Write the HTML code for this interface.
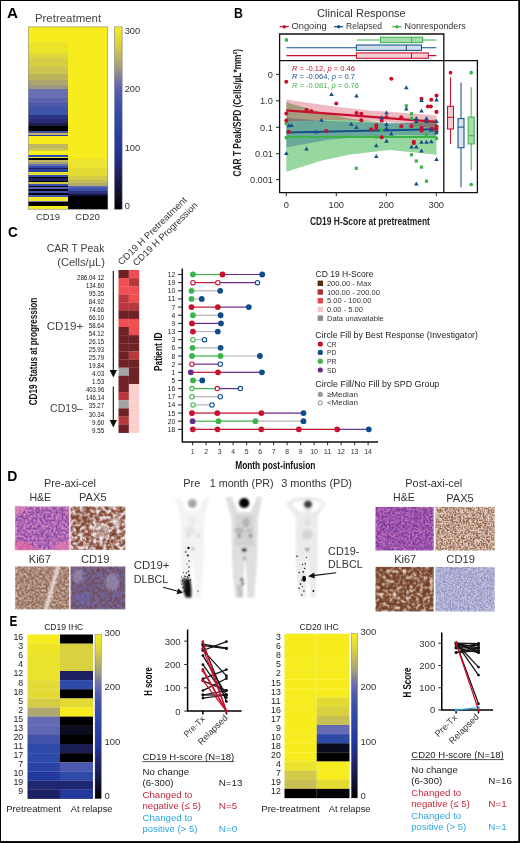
<!DOCTYPE html><html><head><meta charset="utf-8"><title>Figure</title><style>html,body{margin:0;padding:0;background:#fff;overflow:hidden}svg{display:block}text{font-family:'Liberation Sans', sans-serif}</style></head><body>
<svg width="520" height="843" viewBox="0 0 520 843">
<defs>
<linearGradient id="cb" x1="0" y1="1" x2="0" y2="0">
<stop offset="0" stop-color="#000000"/>
<stop offset="0.08" stop-color="#10102c"/>
<stop offset="0.2" stop-color="#1e2264"/>
<stop offset="0.33" stop-color="#22369c"/>
<stop offset="0.5" stop-color="#2e4aa8"/>
<stop offset="0.6" stop-color="#4454ac"/>
<stop offset="0.69" stop-color="#686cb4"/>
<stop offset="0.77" stop-color="#a09c7c"/>
<stop offset="0.86" stop-color="#c8c054"/>
<stop offset="0.93" stop-color="#e2da34"/>
<stop offset="1" stop-color="#f7ec1e"/>
</linearGradient>
<filter id="blur1" x="-20%" y="-20%" width="140%" height="140%"><feGaussianBlur stdDeviation="0.8"/></filter>
<filter id="blur0" x="-30%" y="-30%" width="160%" height="160%"><feGaussianBlur stdDeviation="0.35"/></filter>
<filter id="blur2" x="-20%" y="-20%" width="140%" height="140%"><feGaussianBlur stdDeviation="1.6"/></filter>
<filter id="nHE1" x="0" y="0" width="100%" height="100%" color-interpolation-filters="sRGB"><feTurbulence type="fractalNoise" baseFrequency="0.5" numOctaves="3" seed="3"/><feColorMatrix type="matrix" values="3.0 0 0 0 -1.020 3.0 0 0 0 -1.020 3.0 0 0 0 -1.020 0 0 0 0 1"/><feColorMatrix type="matrix" values="0.510 0 0 0 0.424 0.361 0 0 0 0.227 0.188 0 0 0 0.612 0 0 0 0 1" result="c"/><feGaussianBlur in="c" stdDeviation="0.9" result="b"/><feComposite in="c" in2="b" operator="arithmetic" k1="0" k2="0.5" k3="0.5" k4="0"/><feComposite in2="SourceGraphic" operator="in"/></filter>
<filter id="nPAX1" x="0" y="0" width="100%" height="100%" color-interpolation-filters="sRGB"><feTurbulence type="fractalNoise" baseFrequency="0.3" numOctaves="3" seed="5"/><feColorMatrix type="matrix" values="3.8 0 0 0 -1.500 3.8 0 0 0 -1.500 3.8 0 0 0 -1.500 0 0 0 0 1"/><feColorMatrix type="matrix" values="0.510 0 0 0 0.471 0.729 0 0 0 0.227 0.847 0 0 0 0.133 0 0 0 0 1" result="c"/><feGaussianBlur in="c" stdDeviation="0.9" result="b"/><feComposite in="c" in2="b" operator="arithmetic" k1="0" k2="0.5" k3="0.5" k4="0"/><feComposite in2="SourceGraphic" operator="in"/></filter>
<filter id="nKI1" x="0" y="0" width="100%" height="100%" color-interpolation-filters="sRGB"><feTurbulence type="fractalNoise" baseFrequency="0.5" numOctaves="3" seed="7"/><feColorMatrix type="matrix" values="2.6 0 0 0 -0.960 2.6 0 0 0 -0.960 2.6 0 0 0 -0.960 0 0 0 0 1"/><feColorMatrix type="matrix" values="0.392 0 0 0 0.518 0.494 0 0 0 0.353 0.549 0 0 0 0.267 0 0 0 0 1" result="c"/><feGaussianBlur in="c" stdDeviation="0.9" result="b"/><feComposite in="c" in2="b" operator="arithmetic" k1="0" k2="0.5" k3="0.5" k4="0"/><feComposite in2="SourceGraphic" operator="in"/></filter>
<filter id="nCD1" x="0" y="0" width="100%" height="100%" color-interpolation-filters="sRGB"><feTurbulence type="fractalNoise" baseFrequency="0.4" numOctaves="3" seed="9"/><feColorMatrix type="matrix" values="3.4 0 0 0 -1.160 3.4 0 0 0 -1.160 3.4 0 0 0 -1.160 0 0 0 0 1"/><feColorMatrix type="matrix" values="-0.016 0 0 0 0.455 0.165 0 0 0 0.267 0.455 0 0 0 0.243 0 0 0 0 1" result="c"/><feGaussianBlur in="c" stdDeviation="0.9" result="b"/><feComposite in="c" in2="b" operator="arithmetic" k1="0" k2="0.5" k3="0.5" k4="0"/><feComposite in2="SourceGraphic" operator="in"/></filter>
<filter id="nHE2" x="0" y="0" width="100%" height="100%" color-interpolation-filters="sRGB"><feTurbulence type="fractalNoise" baseFrequency="0.55" numOctaves="3" seed="11"/><feColorMatrix type="matrix" values="3.0 0 0 0 -1.050 3.0 0 0 0 -1.050 3.0 0 0 0 -1.050 0 0 0 0 1"/><feColorMatrix type="matrix" values="0.494 0 0 0 0.384 0.322 0 0 0 0.180 0.173 0 0 0 0.588 0 0 0 0 1" result="c"/><feGaussianBlur in="c" stdDeviation="0.9" result="b"/><feComposite in="c" in2="b" operator="arithmetic" k1="0" k2="0.5" k3="0.5" k4="0"/><feComposite in2="SourceGraphic" operator="in"/></filter>
<filter id="nPAX2" x="0" y="0" width="100%" height="100%" color-interpolation-filters="sRGB"><feTurbulence type="fractalNoise" baseFrequency="0.6" numOctaves="2" seed="13"/><feColorMatrix type="matrix" values="3.6 0 0 0 -1.250 3.6 0 0 0 -1.250 3.6 0 0 0 -1.250 0 0 0 0 1"/><feColorMatrix type="matrix" values="0.486 0 0 0 0.486 0.682 0 0 0 0.251 0.792 0 0 0 0.125 0 0 0 0 1" result="c"/><feGaussianBlur in="c" stdDeviation="0.9" result="b"/><feComposite in="c" in2="b" operator="arithmetic" k1="0" k2="0.5" k3="0.5" k4="0"/><feComposite in2="SourceGraphic" operator="in"/></filter>
<filter id="nKI2" x="0" y="0" width="100%" height="100%" color-interpolation-filters="sRGB"><feTurbulence type="fractalNoise" baseFrequency="0.3" numOctaves="3" seed="15"/><feColorMatrix type="matrix" values="3.2 0 0 0 -1.420 3.2 0 0 0 -1.420 3.2 0 0 0 -1.420 0 0 0 0 1"/><feColorMatrix type="matrix" values="0.518 0 0 0 0.439 0.667 0 0 0 0.235 0.737 0 0 0 0.133 0 0 0 0 1" result="c"/><feGaussianBlur in="c" stdDeviation="0.9" result="b"/><feComposite in="c" in2="b" operator="arithmetic" k1="0" k2="0.5" k3="0.5" k4="0"/><feComposite in2="SourceGraphic" operator="in"/></filter>
<filter id="nCD2" x="0" y="0" width="100%" height="100%" color-interpolation-filters="sRGB"><feTurbulence type="fractalNoise" baseFrequency="0.7" numOctaves="2" seed="17"/><feColorMatrix type="matrix" values="2.6 0 0 0 -0.820 2.6 0 0 0 -0.820 2.6 0 0 0 -0.820 0 0 0 0 1"/><feColorMatrix type="matrix" values="0.392 0 0 0 0.486 0.392 0 0 0 0.486 0.196 0 0 0 0.729 0 0 0 0 1" result="c"/><feGaussianBlur in="c" stdDeviation="0.9" result="b"/><feComposite in="c" in2="b" operator="arithmetic" k1="0" k2="0.5" k3="0.5" k4="0"/><feComposite in2="SourceGraphic" operator="in"/></filter>
</defs>
<rect x="0" y="0" width="520" height="843" fill="#fff"/>
<text x="7" y="18" font-size="14.5" fill="#000" font-weight="bold" textLength="11" lengthAdjust="spacingAndGlyphs">A</text>
<text x="34.9" y="21.6" font-size="10" fill="#444" textLength="66.3" lengthAdjust="spacingAndGlyphs">Pretreatment</text>
<linearGradient id="gA19" x1="0" y1="0" x2="0" y2="1"><stop offset="0.00000" stop-color="#f7ec1e"/><stop offset="0.08448" stop-color="#f7ec1e"/><stop offset="0.08448" stop-color="#ebe42a"/><stop offset="0.14207" stop-color="#ebe42a"/><stop offset="0.14207" stop-color="#e0d838"/><stop offset="0.17060" stop-color="#e0d838"/><stop offset="0.17060" stop-color="#d6ce44"/><stop offset="0.22216" stop-color="#d6ce44"/><stop offset="0.22216" stop-color="#ccc450"/><stop offset="0.25891" stop-color="#ccc450"/><stop offset="0.25891" stop-color="#bcb45c"/><stop offset="0.29073" stop-color="#bcb45c"/><stop offset="0.29073" stop-color="#aca670"/><stop offset="0.31706" stop-color="#aca670"/><stop offset="0.31706" stop-color="#9c9880"/><stop offset="0.33955" stop-color="#9c9880"/><stop offset="0.33955" stop-color="#6a6eb4"/><stop offset="0.38837" stop-color="#6a6eb4"/><stop offset="0.38837" stop-color="#5a62ac"/><stop offset="0.41964" stop-color="#5a62ac"/><stop offset="0.41964" stop-color="#4c58a8"/><stop offset="0.44103" stop-color="#4c58a8"/><stop offset="0.44103" stop-color="#3c54a8"/><stop offset="0.48108" stop-color="#3c54a8"/><stop offset="0.48108" stop-color="#2c3488"/><stop offset="0.50741" stop-color="#2c3488"/><stop offset="0.50741" stop-color="#282c74"/><stop offset="0.52825" stop-color="#282c74"/><stop offset="0.52825" stop-color="#1c1c48"/><stop offset="0.54142" stop-color="#1c1c48"/><stop offset="0.54142" stop-color="#000"/><stop offset="0.57049" stop-color="#000"/><stop offset="0.57049" stop-color="#4450a8"/><stop offset="0.58091" stop-color="#4450a8"/><stop offset="0.58091" stop-color="#c0b860"/><stop offset="0.59078" stop-color="#c0b860"/><stop offset="0.59078" stop-color="#2038b0"/><stop offset="0.59956" stop-color="#2038b0"/><stop offset="0.59956" stop-color="#f7ec1e"/><stop offset="0.64180" stop-color="#f7ec1e"/><stop offset="0.64180" stop-color="#c0b860"/><stop offset="0.67087" stop-color="#c0b860"/><stop offset="0.67087" stop-color="#d4cc48"/><stop offset="0.67855" stop-color="#d4cc48"/><stop offset="0.67855" stop-color="#f7ec1e"/><stop offset="0.70159" stop-color="#f7ec1e"/><stop offset="0.70159" stop-color="#3048b8"/><stop offset="0.71092" stop-color="#3048b8"/><stop offset="0.71092" stop-color="#f0e828"/><stop offset="0.72024" stop-color="#f0e828"/><stop offset="0.72024" stop-color="#000"/><stop offset="0.72957" stop-color="#000"/><stop offset="0.72957" stop-color="#c0b860"/><stop offset="0.73999" stop-color="#c0b860"/><stop offset="0.73999" stop-color="#a8a478"/><stop offset="0.75041" stop-color="#a8a478"/><stop offset="0.75041" stop-color="#6a6eb4"/><stop offset="0.76083" stop-color="#6a6eb4"/><stop offset="0.76083" stop-color="#3448a8"/><stop offset="0.77180" stop-color="#3448a8"/><stop offset="0.77180" stop-color="#1c2060"/><stop offset="0.77948" stop-color="#1c2060"/><stop offset="0.77948" stop-color="#2840a0"/><stop offset="0.79813" stop-color="#2840a0"/><stop offset="0.79813" stop-color="#e8e030"/><stop offset="0.81130" stop-color="#e8e030"/><stop offset="0.81130" stop-color="#3050b8"/><stop offset="0.82172" stop-color="#3050b8"/><stop offset="0.82172" stop-color="#000"/><stop offset="0.82995" stop-color="#000"/><stop offset="0.82995" stop-color="#1c2060"/><stop offset="0.84312" stop-color="#1c2060"/><stop offset="0.84312" stop-color="#000"/><stop offset="0.85080" stop-color="#000"/><stop offset="0.85080" stop-color="#d0c848"/><stop offset="0.86122" stop-color="#d0c848"/><stop offset="0.86122" stop-color="#3850b0"/><stop offset="0.87219" stop-color="#3850b0"/><stop offset="0.87219" stop-color="#000"/><stop offset="0.87987" stop-color="#000"/><stop offset="0.87987" stop-color="#5860b8"/><stop offset="0.89029" stop-color="#5860b8"/><stop offset="0.89029" stop-color="#000"/><stop offset="0.90016" stop-color="#000"/><stop offset="0.90016" stop-color="#3850b0"/><stop offset="0.91168" stop-color="#3850b0"/><stop offset="0.91168" stop-color="#000"/><stop offset="0.92101" stop-color="#000"/><stop offset="0.92101" stop-color="#4858b0"/><stop offset="0.93143" stop-color="#4858b0"/><stop offset="0.93143" stop-color="#f0e828"/><stop offset="0.95283" stop-color="#f0e828"/><stop offset="0.95283" stop-color="#7070b8"/><stop offset="0.96160" stop-color="#7070b8"/><stop offset="0.96160" stop-color="#000"/><stop offset="0.98025" stop-color="#000"/><stop offset="0.98025" stop-color="#f7ec1e"/><stop offset="1.00000" stop-color="#f7ec1e"/></linearGradient>
<rect x="28.3" y="26.9" width="39.80" height="182.30" fill="url(#gA19)"/>
<linearGradient id="gA20" x1="0" y1="0" x2="0" y2="1"><stop offset="0.00000" stop-color="#f7ec1e"/><stop offset="0.72189" stop-color="#f7ec1e"/><stop offset="0.72189" stop-color="#ece430"/><stop offset="0.77400" stop-color="#ece430"/><stop offset="0.77400" stop-color="#e4dc34"/><stop offset="0.81514" stop-color="#e4dc34"/><stop offset="0.81514" stop-color="#d4cc44"/><stop offset="0.83982" stop-color="#d4cc44"/><stop offset="0.83982" stop-color="#c4bc54"/><stop offset="0.85628" stop-color="#c4bc54"/><stop offset="0.85628" stop-color="#b0aa6c"/><stop offset="0.87109" stop-color="#b0aa6c"/><stop offset="0.87109" stop-color="#5c64b4"/><stop offset="0.88590" stop-color="#5c64b4"/><stop offset="0.88590" stop-color="#3c50a8"/><stop offset="0.90016" stop-color="#3c50a8"/><stop offset="0.90016" stop-color="#28307c"/><stop offset="0.91498" stop-color="#28307c"/><stop offset="0.91498" stop-color="#14143c"/><stop offset="0.92979" stop-color="#14143c"/><stop offset="0.92979" stop-color="#000"/><stop offset="1.00000" stop-color="#000"/></linearGradient>
<rect x="68" y="26.9" width="39.90" height="182.30" fill="url(#gA20)"/>
<rect x="28.3" y="26.9" width="79.50" height="182.3" fill="none" stroke="#777" stroke-width="0.5"/>
<rect x="114.6" y="26.9" width="7.5" height="182.3" fill="url(#cb)" stroke="#666" stroke-width="0.5"/>
<text x="124.7" y="33.9" font-size="9.3" fill="#333">300</text>
<text x="124.7" y="92.25" font-size="9.3" fill="#333">200</text>
<text x="124.7" y="150.85" font-size="9.3" fill="#333">100</text>
<text x="124.7" y="209.04999999999998" font-size="9.3" fill="#333">0</text>
<text x="48" y="219.8" font-size="8.5" fill="#333" text-anchor="middle" textLength="24" lengthAdjust="spacingAndGlyphs">CD19</text>
<text x="87.6" y="219.8" font-size="8.5" fill="#333" text-anchor="middle" textLength="24.5" lengthAdjust="spacingAndGlyphs">CD20</text>
<text x="234" y="18.1" font-size="14.5" fill="#000" font-weight="bold" textLength="8.9" lengthAdjust="spacingAndGlyphs">B</text>
<text x="317.1" y="16.9" font-size="10.5" fill="#333" textLength="88.7" lengthAdjust="spacingAndGlyphs">Clinical Response</text>
<line x1="279.6" y1="26.7" x2="288.8" y2="26.7" stroke="#c8102e" stroke-width="1.2"/><circle cx="284.3" cy="26.7" r="1.7" fill="#c8102e"/>
<text x="291.5" y="29.4" font-size="9" fill="#333" textLength="35.2" lengthAdjust="spacingAndGlyphs">Ongoing</text>
<line x1="334.0" y1="26.7" x2="343.2" y2="26.7" stroke="#15508c" stroke-width="1.2"/><circle cx="338.7" cy="26.7" r="1.7" fill="#15508c"/>
<text x="346" y="29.4" font-size="9" fill="#333" textLength="36" lengthAdjust="spacingAndGlyphs">Relapsed</text>
<line x1="392.3" y1="26.7" x2="401.5" y2="26.7" stroke="#3cb44b" stroke-width="1.2"/><circle cx="397.0" cy="26.7" r="1.7" fill="#3cb44b"/>
<text x="404.6" y="29.4" font-size="9" fill="#333" textLength="61.2" lengthAdjust="spacingAndGlyphs">Nonresponders</text>
<path d="M286.3,102.3 L320,112 L350,118.5 L390,123.5 L410,123 L436.5,119.2 L436.5,154.8 L410,152 L390,150 L350,154.5 L320,161 L286.3,171.7Z" fill="#3cb44b" fill-opacity="0.53"/>
<path d="M286.3,117.7 L310,119.8 L330,121 L370,122.6 L400,123 L436.5,122.3 L436.5,135.6 L400,135 L370,136.5 L330,139.5 L286.3,147.5Z" fill="#15508c" fill-opacity="0.35"/>
<path d="M286.3,99.4 L330,106 L370,110.5 L400,112.5 L436.5,115.4 L436.5,128.4 L400,123 L370,121 L330,120 L286.3,121.5Z" fill="#c8102e" fill-opacity="0.29"/>
<line x1="286.3" y1="137" x2="436.5" y2="137" stroke="#3cb44b" stroke-width="2.1"/>
<line x1="286.3" y1="132.5" x2="436.5" y2="129.2" stroke="#15508c" stroke-width="1.9"/>
<line x1="286.3" y1="110.4" x2="436.5" y2="121.9" stroke="#c8102e" stroke-width="2.1"/>
<rect x="284.7" y="121.9" width="3.2" height="3.2" fill="#3cb44b"/>
<rect x="284.7" y="136.1" width="3.2" height="3.2" fill="#3cb44b"/>
<rect x="354.7" y="166.7" width="3.2" height="3.2" fill="#3cb44b"/>
<rect x="404.7" y="104.2" width="3.2" height="3.2" fill="#3cb44b"/>
<rect x="409.9" y="112.2" width="3.2" height="3.2" fill="#3cb44b"/>
<rect x="409.9" y="116.7" width="3.2" height="3.2" fill="#3cb44b"/>
<rect x="414.7" y="123.8" width="3.2" height="3.2" fill="#3cb44b"/>
<rect x="380.1" y="128.6" width="3.2" height="3.2" fill="#3cb44b"/>
<rect x="374.7" y="135.4" width="3.2" height="3.2" fill="#3cb44b"/>
<rect x="424.9" y="132.8" width="3.2" height="3.2" fill="#3cb44b"/>
<rect x="434.9" y="136.9" width="3.2" height="3.2" fill="#3cb44b"/>
<rect x="409.9" y="153.2" width="3.2" height="3.2" fill="#3cb44b"/>
<rect x="414.7" y="159.4" width="3.2" height="3.2" fill="#3cb44b"/>
<rect x="419.9" y="165.5" width="3.2" height="3.2" fill="#3cb44b"/>
<rect x="424.9" y="179.6" width="3.2" height="3.2" fill="#3cb44b"/>
<circle cx="286.3" cy="81.7" r="2.05" fill="#c8102e"/>
<circle cx="286.3" cy="113.5" r="2.05" fill="#c8102e"/>
<circle cx="286.3" cy="120.6" r="2.05" fill="#c8102e"/>
<circle cx="288.7" cy="131.7" r="2.05" fill="#c8102e"/>
<circle cx="306.5" cy="109.8" r="2.05" fill="#c8102e"/>
<circle cx="311.3" cy="111.3" r="2.05" fill="#c8102e"/>
<circle cx="336.3" cy="103.5" r="2.05" fill="#c8102e"/>
<circle cx="326.3" cy="131" r="2.05" fill="#c8102e"/>
<circle cx="356.5" cy="113" r="2.05" fill="#c8102e"/>
<circle cx="361.3" cy="113.8" r="2.05" fill="#c8102e"/>
<circle cx="361.3" cy="120.2" r="2.05" fill="#c8102e"/>
<circle cx="391.3" cy="78.7" r="2.05" fill="#c8102e"/>
<circle cx="421.5" cy="98.8" r="2.05" fill="#c8102e"/>
<circle cx="431.3" cy="99.8" r="2.05" fill="#c8102e"/>
<circle cx="436.5" cy="95.6" r="2.05" fill="#c8102e"/>
<circle cx="427.9" cy="106.5" r="2.05" fill="#c8102e"/>
<circle cx="430.8" cy="106.5" r="2.05" fill="#c8102e"/>
<circle cx="436.5" cy="111.9" r="2.05" fill="#c8102e"/>
<circle cx="386.5" cy="117.3" r="2.05" fill="#c8102e"/>
<circle cx="381.7" cy="120.6" r="2.05" fill="#c8102e"/>
<circle cx="401.3" cy="117.3" r="2.05" fill="#c8102e"/>
<circle cx="401.3" cy="126.3" r="2.05" fill="#c8102e"/>
<circle cx="376.3" cy="125.4" r="2.05" fill="#c8102e"/>
<circle cx="376.3" cy="127.9" r="2.05" fill="#c8102e"/>
<circle cx="371.2" cy="129.2" r="2.05" fill="#c8102e"/>
<circle cx="381.7" cy="137.3" r="2.05" fill="#c8102e"/>
<circle cx="411.5" cy="126.3" r="2.05" fill="#c8102e"/>
<circle cx="421.5" cy="127.7" r="2.05" fill="#c8102e"/>
<circle cx="421.5" cy="130.6" r="2.05" fill="#c8102e"/>
<circle cx="413.8" cy="141.7" r="2.05" fill="#c8102e"/>
<circle cx="413.8" cy="143" r="2.05" fill="#c8102e"/>
<circle cx="436.5" cy="126.3" r="2.05" fill="#c8102e"/>
<circle cx="436.5" cy="128.8" r="2.05" fill="#c8102e"/>
<circle cx="436.5" cy="131.2" r="2.05" fill="#c8102e"/>
<circle cx="431.7" cy="128.8" r="2.05" fill="#c8102e"/>
<path d="M331.5,92.0 l2.3,4 h-4.6z" fill="#15508c"/>
<path d="M356.5,93.39999999999999 l2.3,4 h-4.6z" fill="#15508c"/>
<path d="M288.8,123.19999999999999 l2.3,4 h-4.6z" fill="#15508c"/>
<path d="M291.5,123.0 l2.3,4 h-4.6z" fill="#15508c"/>
<path d="M321.5,117.8 l2.3,4 h-4.6z" fill="#15508c"/>
<path d="M316.2,129.5 l2.3,4 h-4.6z" fill="#15508c"/>
<path d="M351.3,121.8 l2.3,4 h-4.6z" fill="#15508c"/>
<path d="M356.5,124.89999999999999 l2.3,4 h-4.6z" fill="#15508c"/>
<path d="M286.3,150.9 l2.3,4 h-4.6z" fill="#15508c"/>
<path d="M306.5,146.6 l2.3,4 h-4.6z" fill="#15508c"/>
<path d="M406.3,85.3 l2.3,4 h-4.6z" fill="#15508c"/>
<path d="M421.5,98.0 l2.3,4 h-4.6z" fill="#15508c"/>
<path d="M436.5,97.6 l2.3,4 h-4.6z" fill="#15508c"/>
<path d="M406.3,106.6 l2.3,4 h-4.6z" fill="#15508c"/>
<path d="M421.5,108.6 l2.3,4 h-4.6z" fill="#15508c"/>
<path d="M386.5,110.5 l2.3,4 h-4.6z" fill="#15508c"/>
<path d="M381.7,115.3 l2.3,4 h-4.6z" fill="#15508c"/>
<path d="M416.3,115.89999999999999 l2.3,4 h-4.6z" fill="#15508c"/>
<path d="M426.5,115.89999999999999 l2.3,4 h-4.6z" fill="#15508c"/>
<path d="M416.3,119.1 l2.3,4 h-4.6z" fill="#15508c"/>
<path d="M426.5,119.1 l2.3,4 h-4.6z" fill="#15508c"/>
<path d="M436.5,119.1 l2.3,4 h-4.6z" fill="#15508c"/>
<path d="M386.5,122.0 l2.3,4 h-4.6z" fill="#15508c"/>
<path d="M386.5,125.9 l2.3,4 h-4.6z" fill="#15508c"/>
<path d="M391.3,131.6 l2.3,4 h-4.6z" fill="#15508c"/>
<path d="M386.5,138.79999999999998 l2.3,4 h-4.6z" fill="#15508c"/>
<path d="M376.3,143.2 l2.3,4 h-4.6z" fill="#15508c"/>
<path d="M376.3,154.1 l2.3,4 h-4.6z" fill="#15508c"/>
<path d="M421.5,139.7 l2.3,4 h-4.6z" fill="#15508c"/>
<path d="M426.5,139.7 l2.3,4 h-4.6z" fill="#15508c"/>
<path d="M431.3,139.29999999999998 l2.3,4 h-4.6z" fill="#15508c"/>
<path d="M411.5,144.5 l2.3,4 h-4.6z" fill="#15508c"/>
<path d="M416.3,144.5 l2.3,4 h-4.6z" fill="#15508c"/>
<path d="M421.5,148.4 l2.3,4 h-4.6z" fill="#15508c"/>
<path d="M436.5,157.0 l2.3,4 h-4.6z" fill="#15508c"/>
<path d="M416.3,181.6 l2.3,4 h-4.6z" fill="#15508c"/>
<path d="M431.3,127.79999999999998 l2.3,4 h-4.6z" fill="#15508c"/>
<path d="M436.5,130.29999999999998 l2.3,4 h-4.6z" fill="#15508c"/>
<path d="M279.6,34 H443.8 V60.6 H477.4 V192.7 H279.6 Z M279.6,60.6 H443.8 V192.7" fill="none" stroke="#111" stroke-width="1.3"/>
<line x1="356.7" y1="39.9" x2="436.4" y2="39.9" stroke="#3cb44b" stroke-width="1.05"/>
<rect x="380.4" y="37.199999999999996" width="42.3" height="5.4" fill="#fff"/><rect x="380.4" y="37.199999999999996" width="42.3" height="5.4" fill="#3cb44b" fill-opacity="0.45" stroke="#3cb44b" stroke-width="1.05"/>
<line x1="411.5" y1="37.199999999999996" x2="411.5" y2="42.6" stroke="#3cb44b" stroke-width="1.05"/>
<line x1="286.4" y1="47.7" x2="436.4" y2="47.7" stroke="#15508c" stroke-width="1.05"/>
<rect x="356.4" y="45.0" width="65.1" height="5.4" fill="#fff"/><rect x="356.4" y="45.0" width="65.1" height="5.4" fill="#15508c" fill-opacity="0.2" stroke="#15508c" stroke-width="1.05"/>
<line x1="406.3" y1="45.0" x2="406.3" y2="50.400000000000006" stroke="#15508c" stroke-width="1.05"/>
<line x1="286.4" y1="55.6" x2="436.4" y2="55.6" stroke="#c8102e" stroke-width="1.05"/>
<rect x="356.4" y="52.9" width="71.9" height="5.4" fill="#fff"/><rect x="356.4" y="52.9" width="71.9" height="5.4" fill="#c8102e" fill-opacity="0.2" stroke="#c8102e" stroke-width="1.05"/>
<line x1="411.5" y1="52.9" x2="411.5" y2="58.300000000000004" stroke="#c8102e" stroke-width="1.05"/>
<circle cx="286.4" cy="39.9" r="1.85" fill="#3cb44b"/>
<line x1="450.5" y1="77.4" x2="450.5" y2="144.2" stroke="#c8102e" stroke-width="1.05"/>
<rect x="447.5" y="106.3" width="6" height="22.7" fill="#fff"/><rect x="447.5" y="106.3" width="6" height="22.7" fill="#c8102e" fill-opacity="0.22" stroke="#c8102e" stroke-width="1.05"/>
<line x1="447.5" y1="117.3" x2="453.5" y2="117.3" stroke="#c8102e" stroke-width="1.05"/>
<line x1="461" y1="82.5" x2="461" y2="187.3" stroke="#15508c" stroke-width="1.05"/>
<rect x="458.0" y="118.6" width="6" height="29.1" fill="#fff"/><rect x="458.0" y="118.6" width="6" height="29.1" fill="#15508c" fill-opacity="0.16" stroke="#15508c" stroke-width="1.05"/>
<line x1="458.0" y1="127.1" x2="464.0" y2="127.1" stroke="#15508c" stroke-width="1.05"/>
<line x1="471.2" y1="87.3" x2="471.2" y2="170.4" stroke="#3cb44b" stroke-width="1.05"/>
<rect x="468.2" y="117.1" width="6" height="26.8" fill="#fff"/><rect x="468.2" y="117.1" width="6" height="26.8" fill="#3cb44b" fill-opacity="0.45" stroke="#3cb44b" stroke-width="1.05"/>
<line x1="468.2" y1="135.7" x2="474.2" y2="135.7" stroke="#3cb44b" stroke-width="1.05"/>
<circle cx="450.5" cy="72.7" r="1.85" fill="#c8102e"/><circle cx="471.2" cy="72.7" r="1.85" fill="#3cb44b"/><circle cx="471.2" cy="184.5" r="1.85" fill="#3cb44b"/>
<text x="292" y="70.6" font-size="7.9" fill="#c8102e" textLength="63" lengthAdjust="spacingAndGlyphs"><tspan font-style="italic">R</tspan> = -0.12, <tspan font-style="italic">p</tspan> = 0.46</text>
<text x="292" y="79.2" font-size="7.9" fill="#15508c" textLength="63" lengthAdjust="spacingAndGlyphs"><tspan font-style="italic">R</tspan> = -0.064, <tspan font-style="italic">p</tspan> = 0.7</text>
<text x="292" y="88.2" font-size="7.9" fill="#3cb44b" textLength="67" lengthAdjust="spacingAndGlyphs"><tspan font-style="italic">R</tspan> = -0.081, <tspan font-style="italic">p</tspan> = 0.76</text>
<line x1="276" y1="74.4" x2="279.6" y2="74.4" stroke="#111" stroke-width="0.9"/>
<text x="272.9" y="77.7" font-size="9.2" fill="#333" text-anchor="end">0</text>
<line x1="276" y1="100.8" x2="279.6" y2="100.8" stroke="#111" stroke-width="0.9"/>
<text x="272.9" y="104.1" font-size="9.2" fill="#333" text-anchor="end">1.0</text>
<line x1="276" y1="127.3" x2="279.6" y2="127.3" stroke="#111" stroke-width="0.9"/>
<text x="272.9" y="130.6" font-size="9.2" fill="#333" text-anchor="end">0.1</text>
<line x1="276" y1="153.7" x2="279.6" y2="153.7" stroke="#111" stroke-width="0.9"/>
<text x="272.9" y="157.0" font-size="9.2" fill="#333" text-anchor="end">0.01</text>
<line x1="276" y1="179.6" x2="279.6" y2="179.6" stroke="#111" stroke-width="0.9"/>
<text x="272.9" y="182.9" font-size="9.2" fill="#333" text-anchor="end">0.001</text>
<line x1="286.3" y1="192.7" x2="286.3" y2="196.2" stroke="#111" stroke-width="0.9"/>
<text x="286.3" y="207.7" font-size="9.3" fill="#333" text-anchor="middle">0</text>
<line x1="336.3" y1="192.7" x2="336.3" y2="196.2" stroke="#111" stroke-width="0.9"/>
<text x="336.3" y="207.7" font-size="9.3" fill="#333" text-anchor="middle">100</text>
<line x1="386.3" y1="192.7" x2="386.3" y2="196.2" stroke="#111" stroke-width="0.9"/>
<text x="386.3" y="207.7" font-size="9.3" fill="#333" text-anchor="middle">200</text>
<line x1="436.3" y1="192.7" x2="436.3" y2="196.2" stroke="#111" stroke-width="0.9"/>
<text x="436.3" y="207.7" font-size="9.3" fill="#333" text-anchor="middle">300</text>
<text x="309.9" y="225" font-size="11" fill="#222" font-weight="bold" textLength="120" lengthAdjust="spacingAndGlyphs">CD19 H-Score at pretreatment</text>
<text x="240.7" y="176.4" font-size="10.8" fill="#222" font-weight="bold" textLength="127.4" lengthAdjust="spacingAndGlyphs" transform="rotate(-90 240.7 176.4)">CAR T Peak/SPD (Cells/µL*mm²)</text>
<text x="8.1" y="237" font-size="14.5" fill="#000" font-weight="bold" textLength="9.8" lengthAdjust="spacingAndGlyphs">C</text>
<text x="104.4" y="252" font-size="10.3" fill="#444" text-anchor="end" textLength="57.7" lengthAdjust="spacingAndGlyphs">CAR T Peak</text>
<text x="104.9" y="265.6" font-size="10.3" fill="#444" text-anchor="end" textLength="47.7" lengthAdjust="spacingAndGlyphs">(Cells/µL)</text>
<text x="46.7" y="330" font-size="11.5" fill="#444" textLength="36.7" lengthAdjust="spacingAndGlyphs">CD19+</text>
<text x="50" y="412.3" font-size="11.5" fill="#444" textLength="33" lengthAdjust="spacingAndGlyphs">CD19–</text>
<text x="37.1" y="405.3" font-size="10.8" fill="#111" font-weight="bold" textLength="107.5" lengthAdjust="spacingAndGlyphs" transform="rotate(-90 37.1 405.3)">CD19 Status at progression</text>
<text x="121.5" y="265.5" font-size="9.2" fill="#333" textLength="92.5" lengthAdjust="spacingAndGlyphs" transform="rotate(-44.5 121.5 265.5)">CD19 H Pretreatment</text>
<text x="136.5" y="266.5" font-size="9.2" fill="#333" textLength="86.5" lengthAdjust="spacingAndGlyphs" transform="rotate(-44.5 136.5 266.5)">CD19 H Progression</text>
<rect x="118.5" y="270.00" width="10.4" height="8.29" fill="#6e2226"/><rect x="128.9" y="270.00" width="10.3" height="8.29" fill="#f04e50"/>
<rect x="118.5" y="278.14" width="10.4" height="8.29" fill="#f04e50"/><rect x="128.9" y="278.14" width="10.3" height="8.29" fill="#b8383e"/>
<rect x="118.5" y="286.28" width="10.4" height="8.29" fill="#f04e50"/><rect x="128.9" y="286.28" width="10.3" height="8.29" fill="#f04e50"/>
<rect x="118.5" y="294.42" width="10.4" height="8.29" fill="#b8383e"/><rect x="128.9" y="294.42" width="10.3" height="8.29" fill="#f04e50"/>
<rect x="118.5" y="302.56" width="10.4" height="8.29" fill="#b8383e"/><rect x="128.9" y="302.56" width="10.3" height="8.29" fill="#b8383e"/>
<rect x="118.5" y="310.70" width="10.4" height="8.29" fill="#6e2226"/><rect x="128.9" y="310.70" width="10.3" height="8.29" fill="#6e2226"/>
<rect x="118.5" y="318.84" width="10.4" height="8.29" fill="#f04e50"/><rect x="128.9" y="318.84" width="10.3" height="8.29" fill="#f04e50"/>
<rect x="118.5" y="326.98" width="10.4" height="8.29" fill="#6e2226"/><rect x="128.9" y="326.98" width="10.3" height="8.29" fill="#f04e50"/>
<rect x="118.5" y="335.12" width="10.4" height="8.29" fill="#6e2226"/><rect x="128.9" y="335.12" width="10.3" height="8.29" fill="#6e2226"/>
<rect x="118.5" y="343.26" width="10.4" height="8.29" fill="#6e2226"/><rect x="128.9" y="343.26" width="10.3" height="8.29" fill="#6e2226"/>
<rect x="118.5" y="351.40" width="10.4" height="8.29" fill="#6e2226"/><rect x="128.9" y="351.40" width="10.3" height="8.29" fill="#b8383e"/>
<rect x="118.5" y="359.54" width="10.4" height="8.29" fill="#6e2226"/><rect x="128.9" y="359.54" width="10.3" height="8.29" fill="#6e2226"/>
<rect x="118.5" y="367.68" width="10.4" height="8.29" fill="#a4a4a4"/><rect x="128.9" y="367.68" width="10.3" height="8.29" fill="#6e2226"/>
<rect x="118.5" y="375.82" width="10.4" height="8.29" fill="#6e2226"/><rect x="128.9" y="375.82" width="10.3" height="8.29" fill="#6e2226"/>
<rect x="118.5" y="383.96" width="10.4" height="8.29" fill="#6e2226"/><rect x="128.9" y="383.96" width="10.3" height="8.29" fill="#fbd0cc"/>
<rect x="118.5" y="392.10" width="10.4" height="8.29" fill="#b8383e"/><rect x="128.9" y="392.10" width="10.3" height="8.29" fill="#fbd0cc"/>
<rect x="118.5" y="400.24" width="10.4" height="8.29" fill="#a4a4a4"/><rect x="128.9" y="400.24" width="10.3" height="8.29" fill="#fbd0cc"/>
<rect x="118.5" y="408.38" width="10.4" height="8.29" fill="#6e2226"/><rect x="128.9" y="408.38" width="10.3" height="8.29" fill="#fbd0cc"/>
<rect x="118.5" y="416.52" width="10.4" height="8.29" fill="#b8383e"/><rect x="128.9" y="416.52" width="10.3" height="8.29" fill="#fbd0cc"/>
<rect x="118.5" y="424.66" width="10.4" height="8.29" fill="#6e2226"/><rect x="128.9" y="424.66" width="10.3" height="8.29" fill="#fbd0cc"/>
<text x="104.2" y="280.0" font-size="7.4" fill="#111" text-anchor="end" textLength="27.2" lengthAdjust="spacingAndGlyphs">286.04 12</text>
<text x="104.2" y="288.03" font-size="7.4" fill="#111" text-anchor="end" textLength="18.2" lengthAdjust="spacingAndGlyphs">134.60</text>
<text x="104.2" y="296.06" font-size="7.4" fill="#111" text-anchor="end" textLength="15.4" lengthAdjust="spacingAndGlyphs">95.35</text>
<text x="104.2" y="304.09" font-size="7.4" fill="#111" text-anchor="end" textLength="15.4" lengthAdjust="spacingAndGlyphs">84.92</text>
<text x="104.2" y="312.12" font-size="7.4" fill="#111" text-anchor="end" textLength="15.4" lengthAdjust="spacingAndGlyphs">74.66</text>
<text x="104.2" y="320.15" font-size="7.4" fill="#111" text-anchor="end" textLength="15.4" lengthAdjust="spacingAndGlyphs">66.10</text>
<text x="104.2" y="328.18" font-size="7.4" fill="#111" text-anchor="end" textLength="15.4" lengthAdjust="spacingAndGlyphs">58.64</text>
<text x="104.2" y="336.21" font-size="7.4" fill="#111" text-anchor="end" textLength="15.4" lengthAdjust="spacingAndGlyphs">54.12</text>
<text x="104.2" y="344.24" font-size="7.4" fill="#111" text-anchor="end" textLength="15.4" lengthAdjust="spacingAndGlyphs">26.15</text>
<text x="104.2" y="352.27" font-size="7.4" fill="#111" text-anchor="end" textLength="15.4" lengthAdjust="spacingAndGlyphs">25.93</text>
<text x="104.2" y="360.3" font-size="7.4" fill="#111" text-anchor="end" textLength="15.4" lengthAdjust="spacingAndGlyphs">25.79</text>
<text x="104.2" y="368.33" font-size="7.4" fill="#111" text-anchor="end" textLength="15.4" lengthAdjust="spacingAndGlyphs">19.84</text>
<text x="104.2" y="376.36" font-size="7.4" fill="#111" text-anchor="end" textLength="12.3" lengthAdjust="spacingAndGlyphs">4.03</text>
<text x="104.2" y="384.39" font-size="7.4" fill="#111" text-anchor="end" textLength="12.3" lengthAdjust="spacingAndGlyphs">1.53</text>
<text x="104.2" y="392.41999999999996" font-size="7.4" fill="#111" text-anchor="end" textLength="18.2" lengthAdjust="spacingAndGlyphs">403.96</text>
<text x="104.2" y="400.45" font-size="7.4" fill="#111" text-anchor="end" textLength="18.2" lengthAdjust="spacingAndGlyphs">146.14</text>
<text x="104.2" y="408.48" font-size="7.4" fill="#111" text-anchor="end" textLength="15.4" lengthAdjust="spacingAndGlyphs">35.27</text>
<text x="104.2" y="416.51" font-size="7.4" fill="#111" text-anchor="end" textLength="15.4" lengthAdjust="spacingAndGlyphs">30.34</text>
<text x="104.2" y="424.53999999999996" font-size="7.4" fill="#111" text-anchor="end" textLength="12.3" lengthAdjust="spacingAndGlyphs">9.60</text>
<text x="104.2" y="432.57" font-size="7.4" fill="#111" text-anchor="end" textLength="12.3" lengthAdjust="spacingAndGlyphs">9.55</text>
<path d="M113.3,271 V372" stroke="#111" stroke-width="1.1" fill="none"/><path d="M109.6,370 h7.4 l-3.7,7.4z" fill="#111"/>
<path d="M113.3,386.4 V422" stroke="#111" stroke-width="1.1" fill="none"/><path d="M109.6,420 h7.4 l-3.7,7.4z" fill="#111"/>
<line x1="178" y1="274.5" x2="182.3" y2="274.5" stroke="#111" stroke-width="0.9"/>
<text x="175.2" y="277.0" font-size="7" fill="#222" text-anchor="end" textLength="7.5" lengthAdjust="spacingAndGlyphs">12</text>
<line x1="192.9" y1="274.5" x2="222.5" y2="274.5" stroke="#3cb44b" stroke-width="1.2"/>
<line x1="222.5" y1="274.5" x2="262.2" y2="274.5" stroke="#6a2c8c" stroke-width="1.2"/>
<circle cx="192.9" cy="274.5" r="2.9" fill="#3cb44b"/>
<circle cx="222.5" cy="274.5" r="2.9" fill="#c8102e"/>
<circle cx="262.2" cy="274.5" r="2.9" fill="#0f4c8a"/>
<line x1="178" y1="282.65" x2="182.3" y2="282.65" stroke="#111" stroke-width="0.9"/>
<text x="175.2" y="285.15" font-size="7" fill="#222" text-anchor="end" textLength="7.5" lengthAdjust="spacingAndGlyphs">19</text>
<line x1="192.9" y1="282.65" x2="217.8" y2="282.65" stroke="#c8102e" stroke-width="1.2"/>
<line x1="217.8" y1="282.65" x2="257.5" y2="282.65" stroke="#6a2c8c" stroke-width="1.2"/>
<circle cx="192.9" cy="282.65" r="2.2" fill="#fff" stroke="#c8102e" stroke-width="1.1"/>
<circle cx="217.8" cy="282.65" r="2.2" fill="#fff" stroke="#c8102e" stroke-width="1.1"/>
<circle cx="257.5" cy="282.65" r="2.2" fill="#fff" stroke="#0f4c8a" stroke-width="1.1"/>
<line x1="178" y1="290.8" x2="182.3" y2="290.8" stroke="#111" stroke-width="0.9"/>
<text x="175.2" y="293.3" font-size="7" fill="#222" text-anchor="end" textLength="7.5" lengthAdjust="spacingAndGlyphs">10</text>
<line x1="191.5" y1="290.8" x2="220.2" y2="290.8" stroke="#b4b4b4" stroke-width="1.2"/>
<circle cx="191.5" cy="290.8" r="2.9" fill="#3cb44b"/>
<circle cx="220.2" cy="290.8" r="2.9" fill="#0f4c8a"/>
<line x1="178" y1="298.95" x2="182.3" y2="298.95" stroke="#111" stroke-width="0.9"/>
<text x="175.2" y="301.45" font-size="7" fill="#222" text-anchor="end" textLength="7.5" lengthAdjust="spacingAndGlyphs">11</text>
<line x1="191.5" y1="298.95" x2="201.7" y2="298.95" stroke="#b4b4b4" stroke-width="1.2"/>
<circle cx="191.5" cy="298.95" r="2.9" fill="#3cb44b"/>
<circle cx="201.7" cy="298.95" r="2.9" fill="#0f4c8a"/>
<line x1="178" y1="307.1" x2="182.3" y2="307.1" stroke="#111" stroke-width="0.9"/>
<text x="175.2" y="309.6" font-size="7" fill="#222" text-anchor="end" textLength="3.8" lengthAdjust="spacingAndGlyphs">7</text>
<line x1="191.5" y1="307.1" x2="217.8" y2="307.1" stroke="#c8102e" stroke-width="1.2"/>
<line x1="217.8" y1="307.1" x2="248.8" y2="307.1" stroke="#6a2c8c" stroke-width="1.2"/>
<circle cx="191.5" cy="307.1" r="2.9" fill="#c8102e"/>
<circle cx="217.8" cy="307.1" r="2.9" fill="#c8102e"/>
<circle cx="248.8" cy="307.1" r="2.9" fill="#0f4c8a"/>
<line x1="178" y1="315.25" x2="182.3" y2="315.25" stroke="#111" stroke-width="0.9"/>
<text x="175.2" y="317.75" font-size="7" fill="#222" text-anchor="end" textLength="3.8" lengthAdjust="spacingAndGlyphs">4</text>
<line x1="192.9" y1="315.25" x2="220.6" y2="315.25" stroke="#b4b4b4" stroke-width="1.2"/>
<circle cx="192.9" cy="315.25" r="2.9" fill="#3cb44b"/>
<circle cx="220.6" cy="315.25" r="2.9" fill="#0f4c8a"/>
<line x1="178" y1="323.4" x2="182.3" y2="323.4" stroke="#111" stroke-width="0.9"/>
<text x="175.2" y="325.9" font-size="7" fill="#222" text-anchor="end" textLength="3.8" lengthAdjust="spacingAndGlyphs">9</text>
<line x1="192" y1="323.4" x2="221" y2="323.4" stroke="#6a2c8c" stroke-width="1.2"/>
<circle cx="192" cy="323.4" r="2.9" fill="#c8102e"/>
<circle cx="221" cy="323.4" r="2.9" fill="#0f4c8a"/>
<line x1="178" y1="331.55" x2="182.3" y2="331.55" stroke="#111" stroke-width="0.9"/>
<text x="175.2" y="334.05" font-size="7" fill="#222" text-anchor="end" textLength="7.5" lengthAdjust="spacingAndGlyphs">13</text>
<line x1="192.9" y1="331.55" x2="217.8" y2="331.55" stroke="#b4b4b4" stroke-width="1.2"/>
<circle cx="192.9" cy="331.55" r="2.9" fill="#c8102e"/>
<circle cx="217.8" cy="331.55" r="2.9" fill="#0f4c8a"/>
<line x1="178" y1="339.7" x2="182.3" y2="339.7" stroke="#111" stroke-width="0.9"/>
<text x="175.2" y="342.2" font-size="7" fill="#222" text-anchor="end" textLength="3.8" lengthAdjust="spacingAndGlyphs">3</text>
<line x1="192.9" y1="339.7" x2="204.5" y2="339.7" stroke="#b4b4b4" stroke-width="1.2"/>
<circle cx="192.9" cy="339.7" r="2.2" fill="#fff" stroke="#3cb44b" stroke-width="1.1"/>
<circle cx="204.5" cy="339.7" r="2.2" fill="#fff" stroke="#0f4c8a" stroke-width="1.1"/>
<line x1="178" y1="347.85" x2="182.3" y2="347.85" stroke="#111" stroke-width="0.9"/>
<text x="175.2" y="350.35" font-size="7" fill="#222" text-anchor="end" textLength="3.8" lengthAdjust="spacingAndGlyphs">6</text>
<line x1="192.5" y1="347.85" x2="220.6" y2="347.85" stroke="#b4b4b4" stroke-width="1.2"/>
<circle cx="192.5" cy="347.85" r="2.9" fill="#3cb44b"/>
<circle cx="220.6" cy="347.85" r="2.9" fill="#0f4c8a"/>
<line x1="178" y1="356.0" x2="182.3" y2="356.0" stroke="#111" stroke-width="0.9"/>
<text x="175.2" y="358.5" font-size="7" fill="#222" text-anchor="end" textLength="3.8" lengthAdjust="spacingAndGlyphs">8</text>
<line x1="192" y1="356.0" x2="220.5" y2="356.0" stroke="#3cb44b" stroke-width="1.2"/>
<line x1="220.5" y1="356.0" x2="259.9" y2="356.0" stroke="#b4b4b4" stroke-width="1.2"/>
<circle cx="192" cy="356.0" r="2.9" fill="#3cb44b"/>
<circle cx="220.5" cy="356.0" r="2.9" fill="#3cb44b"/>
<circle cx="259.9" cy="356.0" r="2.9" fill="#0f4c8a"/>
<line x1="178" y1="364.15" x2="182.3" y2="364.15" stroke="#111" stroke-width="0.9"/>
<text x="175.2" y="366.65" font-size="7" fill="#222" text-anchor="end" textLength="3.8" lengthAdjust="spacingAndGlyphs">2</text>
<line x1="191.9" y1="364.15" x2="220.3" y2="364.15" stroke="#6a2c8c" stroke-width="1.2"/>
<circle cx="191.9" cy="364.15" r="2.2" fill="#fff" stroke="#c8102e" stroke-width="1.1"/>
<circle cx="220.3" cy="364.15" r="2.2" fill="#fff" stroke="#0f4c8a" stroke-width="1.1"/>
<line x1="178" y1="372.3" x2="182.3" y2="372.3" stroke="#111" stroke-width="0.9"/>
<text x="175.2" y="374.8" font-size="7" fill="#222" text-anchor="end" textLength="3.8" lengthAdjust="spacingAndGlyphs">1</text>
<line x1="190.8" y1="372.3" x2="218" y2="372.3" stroke="#c8102e" stroke-width="1.2"/>
<line x1="218" y1="372.3" x2="261.9" y2="372.3" stroke="#6a2c8c" stroke-width="1.2"/>
<circle cx="190.8" cy="372.3" r="2.9" fill="#6a2c8c"/>
<circle cx="218" cy="372.3" r="2.9" fill="#c8102e"/>
<circle cx="261.9" cy="372.3" r="2.9" fill="#0f4c8a"/>
<line x1="178" y1="380.45" x2="182.3" y2="380.45" stroke="#111" stroke-width="0.9"/>
<text x="175.2" y="382.95" font-size="7" fill="#222" text-anchor="end" textLength="3.8" lengthAdjust="spacingAndGlyphs">5</text>
<line x1="193" y1="380.45" x2="202.3" y2="380.45" stroke="#b4b4b4" stroke-width="1.2"/>
<circle cx="193" cy="380.45" r="2.9" fill="#3cb44b"/>
<circle cx="202.3" cy="380.45" r="2.9" fill="#0f4c8a"/>
<line x1="178" y1="388.6" x2="182.3" y2="388.6" stroke="#111" stroke-width="0.9"/>
<text x="175.2" y="391.1" font-size="7" fill="#222" text-anchor="end" textLength="7.5" lengthAdjust="spacingAndGlyphs">16</text>
<line x1="191.9" y1="388.6" x2="217.3" y2="388.6" stroke="#3cb44b" stroke-width="1.2"/>
<line x1="217.3" y1="388.6" x2="240.4" y2="388.6" stroke="#6a2c8c" stroke-width="1.2"/>
<circle cx="191.9" cy="388.6" r="2.2" fill="#fff" stroke="#3cb44b" stroke-width="1.1"/>
<circle cx="217.3" cy="388.6" r="2.2" fill="#fff" stroke="#c8102e" stroke-width="1.1"/>
<circle cx="240.4" cy="388.6" r="2.2" fill="#fff" stroke="#0f4c8a" stroke-width="1.1"/>
<line x1="178" y1="396.75" x2="182.3" y2="396.75" stroke="#111" stroke-width="0.9"/>
<text x="175.2" y="399.25" font-size="7" fill="#222" text-anchor="end" textLength="7.5" lengthAdjust="spacingAndGlyphs">17</text>
<line x1="191.9" y1="396.75" x2="220.3" y2="396.75" stroke="#b4b4b4" stroke-width="1.2"/>
<circle cx="191.9" cy="396.75" r="2.2" fill="#fff" stroke="#3cb44b" stroke-width="1.1"/>
<circle cx="220.3" cy="396.75" r="2.2" fill="#fff" stroke="#0f4c8a" stroke-width="1.1"/>
<line x1="178" y1="404.9" x2="182.3" y2="404.9" stroke="#111" stroke-width="0.9"/>
<text x="175.2" y="407.4" font-size="7" fill="#222" text-anchor="end" textLength="7.5" lengthAdjust="spacingAndGlyphs">14</text>
<line x1="193" y1="404.9" x2="212" y2="404.9" stroke="#b4b4b4" stroke-width="1.2"/>
<circle cx="193" cy="404.9" r="2.2" fill="#fff" stroke="#3cb44b" stroke-width="1.1"/>
<circle cx="212" cy="404.9" r="2.2" fill="#fff" stroke="#0f4c8a" stroke-width="1.1"/>
<line x1="178" y1="413.05" x2="182.3" y2="413.05" stroke="#111" stroke-width="0.9"/>
<text x="175.2" y="415.55" font-size="7" fill="#222" text-anchor="end" textLength="7.5" lengthAdjust="spacingAndGlyphs">15</text>
<line x1="191.9" y1="413.05" x2="217.3" y2="413.05" stroke="#c8102e" stroke-width="1.2"/>
<line x1="217.3" y1="413.05" x2="261.4" y2="413.05" stroke="#c8102e" stroke-width="1.2"/>
<line x1="261.4" y1="413.05" x2="303.5" y2="413.05" stroke="#6a2c8c" stroke-width="1.2"/>
<circle cx="191.9" cy="413.05" r="2.9" fill="#c8102e"/>
<circle cx="217.3" cy="413.05" r="2.9" fill="#c8102e"/>
<circle cx="261.4" cy="413.05" r="2.9" fill="#c8102e"/>
<circle cx="303.5" cy="413.05" r="2.9" fill="#0f4c8a"/>
<line x1="178" y1="421.2" x2="182.3" y2="421.2" stroke="#111" stroke-width="0.9"/>
<text x="175.2" y="423.7" font-size="7" fill="#222" text-anchor="end" textLength="7.5" lengthAdjust="spacingAndGlyphs">20</text>
<line x1="192.6" y1="421.2" x2="218.5" y2="421.2" stroke="#3cb44b" stroke-width="1.2"/>
<line x1="218.5" y1="421.2" x2="255.4" y2="421.2" stroke="#3cb44b" stroke-width="1.2"/>
<line x1="255.4" y1="421.2" x2="303.5" y2="421.2" stroke="#b4b4b4" stroke-width="1.2"/>
<circle cx="192.6" cy="421.2" r="2.9" fill="#6a2c8c"/>
<circle cx="218.5" cy="421.2" r="2.9" fill="#3cb44b"/>
<circle cx="255.4" cy="421.2" r="2.9" fill="#3cb44b"/>
<circle cx="303.5" cy="421.2" r="2.9" fill="#0f4c8a"/>
<line x1="178" y1="429.35" x2="182.3" y2="429.35" stroke="#111" stroke-width="0.9"/>
<text x="175.2" y="431.85" font-size="7" fill="#222" text-anchor="end" textLength="7.5" lengthAdjust="spacingAndGlyphs">18</text>
<line x1="192.8" y1="429.35" x2="217.5" y2="429.35" stroke="#c8102e" stroke-width="1.2"/>
<line x1="217.5" y1="429.35" x2="261.3" y2="429.35" stroke="#c8102e" stroke-width="1.2"/>
<line x1="261.3" y1="429.35" x2="298.8" y2="429.35" stroke="#c8102e" stroke-width="1.2"/>
<line x1="298.8" y1="429.35" x2="337.2" y2="429.35" stroke="#c8102e" stroke-width="1.2"/>
<line x1="337.2" y1="429.35" x2="368.8" y2="429.35" stroke="#6a2c8c" stroke-width="1.2"/>
<circle cx="192.8" cy="429.35" r="2.9" fill="#c8102e"/>
<circle cx="217.5" cy="429.35" r="2.9" fill="#c8102e"/>
<circle cx="261.3" cy="429.35" r="2.9" fill="#c8102e"/>
<circle cx="298.8" cy="429.35" r="2.9" fill="#c8102e"/>
<circle cx="337.2" cy="429.35" r="2.9" fill="#c8102e"/>
<circle cx="368.8" cy="429.35" r="2.9" fill="#0f4c8a"/>
<path d="M182.3,268.5 V441.9 H378" fill="none" stroke="#111" stroke-width="1.5"/>
<line x1="192.6" y1="441.9" x2="192.6" y2="445.3" stroke="#111" stroke-width="0.9"/>
<text x="192.6" y="454" font-size="7" fill="#333" text-anchor="middle" textLength="3.8" lengthAdjust="spacingAndGlyphs">1</text>
<line x1="206.1" y1="441.9" x2="206.1" y2="445.3" stroke="#111" stroke-width="0.9"/>
<text x="206.1" y="454" font-size="7" fill="#333" text-anchor="middle" textLength="3.8" lengthAdjust="spacingAndGlyphs">2</text>
<line x1="219.6" y1="441.9" x2="219.6" y2="445.3" stroke="#111" stroke-width="0.9"/>
<text x="219.6" y="454" font-size="7" fill="#333" text-anchor="middle" textLength="3.8" lengthAdjust="spacingAndGlyphs">3</text>
<line x1="233.1" y1="441.9" x2="233.1" y2="445.3" stroke="#111" stroke-width="0.9"/>
<text x="233.1" y="454" font-size="7" fill="#333" text-anchor="middle" textLength="3.8" lengthAdjust="spacingAndGlyphs">4</text>
<line x1="246.6" y1="441.9" x2="246.6" y2="445.3" stroke="#111" stroke-width="0.9"/>
<text x="246.6" y="454" font-size="7" fill="#333" text-anchor="middle" textLength="3.8" lengthAdjust="spacingAndGlyphs">5</text>
<line x1="260.1" y1="441.9" x2="260.1" y2="445.3" stroke="#111" stroke-width="0.9"/>
<text x="260.1" y="454" font-size="7" fill="#333" text-anchor="middle" textLength="3.8" lengthAdjust="spacingAndGlyphs">6</text>
<line x1="273.6" y1="441.9" x2="273.6" y2="445.3" stroke="#111" stroke-width="0.9"/>
<text x="273.6" y="454" font-size="7" fill="#333" text-anchor="middle" textLength="3.8" lengthAdjust="spacingAndGlyphs">7</text>
<line x1="287.1" y1="441.9" x2="287.1" y2="445.3" stroke="#111" stroke-width="0.9"/>
<text x="287.1" y="454" font-size="7" fill="#333" text-anchor="middle" textLength="3.8" lengthAdjust="spacingAndGlyphs">8</text>
<line x1="300.6" y1="441.9" x2="300.6" y2="445.3" stroke="#111" stroke-width="0.9"/>
<text x="300.6" y="454" font-size="7" fill="#333" text-anchor="middle" textLength="3.8" lengthAdjust="spacingAndGlyphs">9</text>
<line x1="314.1" y1="441.9" x2="314.1" y2="445.3" stroke="#111" stroke-width="0.9"/>
<text x="314.1" y="454" font-size="7" fill="#333" text-anchor="middle" textLength="7.8" lengthAdjust="spacingAndGlyphs">10</text>
<line x1="327.6" y1="441.9" x2="327.6" y2="445.3" stroke="#111" stroke-width="0.9"/>
<text x="327.6" y="454" font-size="7" fill="#333" text-anchor="middle" textLength="7.8" lengthAdjust="spacingAndGlyphs">11</text>
<line x1="341.1" y1="441.9" x2="341.1" y2="445.3" stroke="#111" stroke-width="0.9"/>
<text x="341.1" y="454" font-size="7" fill="#333" text-anchor="middle" textLength="7.8" lengthAdjust="spacingAndGlyphs">12</text>
<line x1="354.6" y1="441.9" x2="354.6" y2="445.3" stroke="#111" stroke-width="0.9"/>
<text x="354.6" y="454" font-size="7" fill="#333" text-anchor="middle" textLength="7.8" lengthAdjust="spacingAndGlyphs">13</text>
<line x1="368.1" y1="441.9" x2="368.1" y2="445.3" stroke="#111" stroke-width="0.9"/>
<text x="368.1" y="454" font-size="7" fill="#333" text-anchor="middle" textLength="7.8" lengthAdjust="spacingAndGlyphs">14</text>
<text x="235.2" y="468.8" font-size="11" fill="#111" font-weight="bold" textLength="80.2" lengthAdjust="spacingAndGlyphs">Month post-infusion</text>
<text x="162.4" y="371" font-size="11" fill="#111" font-weight="bold" textLength="38.6" lengthAdjust="spacingAndGlyphs" transform="rotate(-90 162.4 371)">Patient ID</text>
<text x="315.6" y="277" font-size="8.8" fill="#222" textLength="57.8" lengthAdjust="spacingAndGlyphs">CD 19 H-Score</text>
<rect x="317.6" y="280.60" width="5.4" height="5.4" fill="#5b2d10"/>
<text x="326.9" y="285.90000000000003" font-size="7.3" fill="#333" textLength="44.3" lengthAdjust="spacingAndGlyphs">200.00 - Max</text>
<rect x="317.6" y="289.32" width="5.4" height="5.4" fill="#a83236"/>
<text x="326.9" y="294.62000000000006" font-size="7.3" fill="#333" textLength="53" lengthAdjust="spacingAndGlyphs">100.00 - 200.00</text>
<rect x="317.6" y="298.04" width="5.4" height="5.4" fill="#e9484a"/>
<text x="326.9" y="303.34000000000003" font-size="7.3" fill="#333" textLength="44.5" lengthAdjust="spacingAndGlyphs">5.00 - 100.00</text>
<rect x="317.6" y="306.76" width="5.4" height="5.4" fill="#f9c6c6"/>
<text x="326.9" y="312.06000000000006" font-size="7.3" fill="#333" textLength="36" lengthAdjust="spacingAndGlyphs">0.00 - 5.00</text>
<rect x="317.6" y="315.48" width="5.4" height="5.4" fill="#8c8c92"/>
<text x="326.9" y="320.78000000000003" font-size="7.3" fill="#333" textLength="57" lengthAdjust="spacingAndGlyphs">Data unavailable</text>
<text x="315.3" y="337.6" font-size="8.8" fill="#222" textLength="162.5" lengthAdjust="spacingAndGlyphs">Circle Fill by Best Response (Investigator)</text>
<circle cx="320.3" cy="344" r="2.6" fill="#c8102e"/>
<text x="326.9" y="346.6" font-size="7.3" fill="#333" textLength="9.5" lengthAdjust="spacingAndGlyphs">CR</text>
<circle cx="320.3" cy="352.4" r="2.6" fill="#0f4c8a"/>
<text x="326.9" y="355.0" font-size="7.3" fill="#333" textLength="9.5" lengthAdjust="spacingAndGlyphs">PD</text>
<circle cx="320.3" cy="361.2" r="2.6" fill="#3cb44b"/>
<text x="326.9" y="363.8" font-size="7.3" fill="#333" textLength="9.5" lengthAdjust="spacingAndGlyphs">PR</text>
<circle cx="320.3" cy="370" r="2.6" fill="#6a2c8c"/>
<text x="326.9" y="372.6" font-size="7.3" fill="#333" textLength="9.5" lengthAdjust="spacingAndGlyphs">SD</text>
<text x="315.3" y="387.2" font-size="8.8" fill="#222" textLength="124" lengthAdjust="spacingAndGlyphs">Circle Fill/No Fill by SPD Group</text>
<circle cx="320.3" cy="394.4" r="2.6" fill="#999"/><circle cx="320.3" cy="402.8" r="2.1" fill="#fff" stroke="#888" stroke-width="1"/>
<text x="326.9" y="397" font-size="7.3" fill="#333" textLength="31" lengthAdjust="spacingAndGlyphs">≥Median</text>
<text x="326.9" y="405.4" font-size="7.3" fill="#333" textLength="31" lengthAdjust="spacingAndGlyphs">&lt;Median</text>
<text x="7.2" y="481.3" font-size="14.5" fill="#000" font-weight="bold" textLength="10.1" lengthAdjust="spacingAndGlyphs">D</text>
<text x="69.9" y="486.8" font-size="10.3" fill="#333" text-anchor="middle" textLength="52" lengthAdjust="spacingAndGlyphs">Pre-axi-cel</text>
<text x="40.3" y="500.5" font-size="10.6" fill="#333" text-anchor="middle" textLength="21.8" lengthAdjust="spacingAndGlyphs">H&amp;E</text>
<text x="92.8" y="500.5" font-size="10.6" fill="#333" text-anchor="middle" textLength="27.5" lengthAdjust="spacingAndGlyphs">PAX5</text>
<text x="39.8" y="562.6" font-size="10.6" fill="#333" text-anchor="middle" textLength="22" lengthAdjust="spacingAndGlyphs">Ki67</text>
<text x="95.2" y="562.6" font-size="10.6" fill="#333" text-anchor="middle" textLength="28.5" lengthAdjust="spacingAndGlyphs">CD19</text>
<rect x="15.1" y="506.4" width="54.2" height="43.6" filter="url(#nHE1)" fill="#888"/>
<g filter="url(#blur1)" opacity="0.65"><path d="M15.1,541 q8,-2 14,4 q6,3 12,5 H15.1z" fill="#f06aa0"/><path d="M56,544 q6,-4 13.3,-3 V550 H52z" fill="#f080b0"/><path d="M15.1,506.4 h14 q-6,6 -14,8z" fill="#f090b8"/></g>
<rect x="70.5" y="506.4" width="54.9" height="43.6" filter="url(#nPAX1)" fill="#888"/>
<g filter="url(#blur2)" opacity="0.35"><ellipse cx="101" cy="531" rx="9" ry="8" fill="#f6f0f6"/><ellipse cx="117" cy="521" rx="5" ry="8" fill="#f6f0f6"/><ellipse cx="82" cy="518" rx="9" ry="8" fill="#7a3e22"/></g>
<rect x="15.1" y="566.4" width="54.2" height="43" filter="url(#nKI1)" fill="#888"/>
<g filter="url(#blur1)" opacity="0.8"><path d="M56,566.4 l4,0 l-12,43 l-4,0z" fill="#f4ece8"/></g>
<rect x="70.5" y="566.4" width="54.9" height="43" filter="url(#nCD1)" fill="#888"/>
<g filter="url(#blur2)" opacity="0.35"><ellipse cx="84" cy="598" rx="8" ry="7" fill="#6a6ac8"/><ellipse cx="112" cy="582" rx="7" ry="9" fill="#c4c4e8"/><ellipse cx="78" cy="576" rx="5" ry="7" fill="#d0d0ee"/></g>
<text x="133.7" y="569" font-size="10.7" fill="#333" textLength="35.7" lengthAdjust="spacingAndGlyphs">CD19+</text>
<text x="133.7" y="582.5" font-size="10.7" fill="#333" textLength="34.6" lengthAdjust="spacingAndGlyphs">DLBCL</text>
<path d="M163.1,587.2 L178,591.3" stroke="#111" stroke-width="1.1" fill="none"/><path d="M183.3,592.7 l-6.8,1.5 l1.7,-5.6z" fill="#111"/>
<text x="183.3" y="486.7" font-size="10.3" fill="#333" textLength="17" lengthAdjust="spacingAndGlyphs">Pre</text>
<text x="209.7" y="486.7" font-size="10.3" fill="#333" textLength="64" lengthAdjust="spacingAndGlyphs">1 month (PR)</text>
<text x="281.2" y="486.7" font-size="10.3" fill="#333" textLength="70.8" lengthAdjust="spacingAndGlyphs">3 months (PD)</text>
<g filter="url(#blur1)">
<path d="M175,498 L180,497.5 L186.5,511 L198,511 L204.5,497.5 L209,498 L204,518 L204,545 L203.5,560 L202,580 L200.5,597.5 L195.5,597.5 L194.5,575 L193,553 L191,575 L190.5,597.5 L184,597.5 L182,580 L181,560 L181,545 L181,518 Z" fill="#f3f3f3"/>
<ellipse cx="190" cy="530.5" rx="5.5" ry="4" fill="#e6e6e6"/><circle cx="188.5" cy="535.5" r="2" fill="#dadada"/><circle cx="198.5" cy="535.5" r="2" fill="#dadada"/><ellipse cx="192.5" cy="521" rx="3" ry="4" fill="#e9e9e9"/>
<circle cx="192.3" cy="503.4" r="4.6" fill="#b2b2b2"/><circle cx="192.3" cy="503.8" r="2.6" fill="#a2a2a2"/><circle cx="192.8" cy="548.5" r="1.5" fill="#b0b0b0"/>
</g><g filter="url(#blur0)" fill="#0c0c0c">
<g filter="url(#blur1)"><path d="M183,581 Q186,577.5 189.5,578.5 Q191.8,584 191.4,597.6 L185.8,597.6 Q182.6,590 183,581z" fill="#101010"/><path d="M181,580 Q183,577.5 185.5,578.5 L185.5,589 Q182,586 181,580z" fill="#444" opacity="0.7"/></g>
<circle cx="181.5" cy="577" r="0.6"/>
<circle cx="182.5" cy="580.5" r="0.7"/>
<circle cx="181.8" cy="584" r="0.6"/>
<circle cx="184" cy="578.5" r="0.7"/>
<circle cx="183" cy="587.5" r="0.7"/>
<circle cx="185.5" cy="576.5" r="0.6"/>
<circle cx="187.5" cy="577" r="0.8"/>
<circle cx="184.2" cy="591.5" r="0.6"/>
<circle cx="190.5" cy="580" r="0.7"/>
<circle cx="188.5" cy="548" r="1.15"/>
<circle cx="185.7" cy="552" r="0.8"/>
<circle cx="187.8" cy="555.5" r="1.0"/>
<circle cx="189.1" cy="561" r="0.65"/>
<circle cx="189" cy="567" r="0.65"/>
<circle cx="188.5" cy="571.5" r="0.75"/>
<circle cx="189.1" cy="575.3" r="1.1"/>
<circle cx="186.5" cy="573" r="0.65"/>
<circle cx="183.5" cy="572.5" r="0.55"/>
<circle cx="184.5" cy="576" r="0.55"/>
<circle cx="198" cy="591" r="0.6"/>
<circle cx="187" cy="564" r="0.5"/>
</g>
<g filter="url(#blur1)">
<path d="M225.5,497 L231.5,496.8 L238,512 L250.5,512 L257,496.8 L262,497 L258,519 L257.5,547 L257,562 L255.5,580 L254.2,597.8 L247.3,597.8 L246.5,575 L244.6,556 L243.6,575 L243.2,597.8 L235.7,597.8 L233.5,580 L232,562 L232,547 L231.6,519 Z" fill="#dfdfdf"/>
<path d="M236,515 H253 L254,546 H235 Z" fill="#d2d2d2"/>
<ellipse cx="246" cy="522.7" rx="3.6" ry="4.6" fill="#b4b4b4"/><ellipse cx="239" cy="530.5" rx="4.5" ry="2.8" fill="#b6b6b6"/><ellipse cx="249.5" cy="530.5" rx="3" ry="2" fill="#c0c0c0"/><ellipse cx="239.2" cy="535.8" rx="1.6" ry="2.2" fill="#8e8e8e"/><ellipse cx="250.6" cy="535.8" rx="1.6" ry="2.4" fill="#8e8e8e"/><ellipse cx="244.6" cy="558.3" rx="1.4" ry="2.4" fill="#a6a6a6"/>
<circle cx="244.2" cy="503" r="5.1" fill="#050505"/><ellipse cx="244.2" cy="550" rx="2.6" ry="2" fill="#0a0a0a"/><circle cx="241.9" cy="579.4" r="1.5" fill="#0a0a0a"/><circle cx="242.8" cy="583.5" r="1.3" fill="#0a0a0a"/><path d="M236.5,585 h6 l0.4,12 h-5z" fill="#c4c4c4"/>
</g>
<g filter="url(#blur1)">
<path fill-rule="evenodd" d="M295.7,517 L286.1,504 Q290,497 307,496.8 Q322,497 325.7,504 L317.5,517 L317.8,548 L318,562 L316.5,580 L316,597.5 L311,597.5 L309.5,575 L307.5,553 L306.5,575 L306,597.5 L300,597.5 L297.5,580 L295.5,562 L295.7,548 Z M300.5,512 L291.5,504.3 Q294,500.8 307,500.5 Q320,500.8 322.5,504.3 L314.5,512 Z" fill="#ebebeb"/>
<path d="M303.5,508 h8 v6 h-8z" fill="#ebebeb"/>
<ellipse cx="307.3" cy="534.5" rx="5.6" ry="5.2" fill="#d6d6d6"/><ellipse cx="307.5" cy="522" rx="3" ry="4" fill="#e0e0e0"/><ellipse cx="307.3" cy="549.3" rx="2.2" ry="1.6" fill="#8c8c8c"/>
<circle cx="308" cy="504.3" r="4.3" fill="#6a6a6a"/><circle cx="308" cy="504.3" r="3" fill="#3e3e3e"/>
</g><g filter="url(#blur0)" fill="#0c0c0c"><ellipse cx="304.1" cy="578.7" rx="1.9" ry="3"/>
<circle cx="297" cy="556.2" r="0.8"/>
<circle cx="302.5" cy="564.4" r="0.7"/>
<circle cx="305.2" cy="563.7" r="0.7"/>
<circle cx="304.6" cy="568.4" r="0.7"/>
<circle cx="299.1" cy="572.5" r="0.7"/>
<circle cx="303.2" cy="571.9" r="0.8"/>
<circle cx="300.5" cy="584.1" r="0.8"/>
<circle cx="299.1" cy="588.2" r="0.7"/>
<circle cx="303.9" cy="591" r="0.7"/>
<circle cx="301.8" cy="595" r="0.7"/>
<circle cx="313.4" cy="591" r="0.9"/>
<circle cx="306.6" cy="557.5" r="0.6"/>
<circle cx="301.5" cy="580" r="0.6"/>
<circle cx="302.5" cy="586.5" r="0.6"/>
</g>
<text x="328.1" y="555" font-size="10.7" fill="#333" textLength="31.3" lengthAdjust="spacingAndGlyphs">CD19-</text>
<text x="328.1" y="567.8" font-size="10.7" fill="#333" textLength="34.5" lengthAdjust="spacingAndGlyphs">DLBCL</text>
<path d="M336.2,572.7 L313,575.6" stroke="#111" stroke-width="1.1" fill="none"/><path d="M308,576.2 l6.2,-3.6 l0.7,5.9z" fill="#111"/>
<text x="433.8" y="486.8" font-size="10.3" fill="#333" text-anchor="middle" textLength="57" lengthAdjust="spacingAndGlyphs">Post-axi-cel</text>
<text x="404" y="500.8" font-size="10.6" fill="#333" text-anchor="middle" textLength="21.8" lengthAdjust="spacingAndGlyphs">H&amp;E</text>
<text x="460" y="502.3" font-size="10.6" fill="#333" text-anchor="middle" textLength="27.5" lengthAdjust="spacingAndGlyphs">PAX5</text>
<text x="405.2" y="562.9" font-size="10.6" fill="#333" text-anchor="middle" textLength="22" lengthAdjust="spacingAndGlyphs">Ki67</text>
<text x="460.6" y="562.9" font-size="10.6" fill="#333" text-anchor="middle" textLength="28.5" lengthAdjust="spacingAndGlyphs">CD19</text>
<rect x="375.4" y="506.9" width="58.4" height="43.7" filter="url(#nHE2)" fill="#888"/>
<rect x="435.4" y="506.9" width="59.4" height="43.7" filter="url(#nPAX2)" fill="#888"/>
<rect x="375.4" y="566.9" width="58.4" height="44.6" filter="url(#nKI2)" fill="#888"/>
<rect x="435.4" y="566.9" width="59.4" height="44.6" filter="url(#nCD2)" fill="#888"/>
<text x="9.5" y="626" font-size="14.5" fill="#000" font-weight="bold" textLength="7.8" lengthAdjust="spacingAndGlyphs">E</text>
<text x="63.75" y="629.8" font-size="8.4" fill="#222" text-anchor="middle" textLength="39.2" lengthAdjust="spacingAndGlyphs">CD19 IHC</text>
<rect x="27.5" y="634.50" width="32.50" height="9.28" fill="#f7ec1e"/><rect x="60" y="634.50" width="33.00" height="9.28" fill="#000000"/>
<text x="23.2" y="640.2" font-size="8.8" fill="#222" text-anchor="end" textLength="9.8" lengthAdjust="spacingAndGlyphs">16</text>
<rect x="27.5" y="643.62" width="32.50" height="9.28" fill="#efe526"/><rect x="60" y="643.62" width="33.00" height="9.28" fill="#d9d13f"/>
<text x="23.2" y="649.2650000000001" font-size="8.8" fill="#222" text-anchor="end" textLength="4.9" lengthAdjust="spacingAndGlyphs">3</text>
<rect x="27.5" y="652.75" width="32.50" height="9.28" fill="#ebe22b"/><rect x="60" y="652.75" width="33.00" height="9.28" fill="#d9d13f"/>
<text x="23.2" y="658.33" font-size="8.8" fill="#222" text-anchor="end" textLength="4.9" lengthAdjust="spacingAndGlyphs">6</text>
<rect x="27.5" y="661.88" width="32.50" height="9.28" fill="#ebe22b"/><rect x="60" y="661.88" width="33.00" height="9.28" fill="#d9d13f"/>
<text x="23.2" y="667.3950000000001" font-size="8.8" fill="#222" text-anchor="end" textLength="4.9" lengthAdjust="spacingAndGlyphs">4</text>
<rect x="27.5" y="671.00" width="32.50" height="9.28" fill="#ebe22b"/><rect x="60" y="671.00" width="33.00" height="9.28" fill="#1d2161"/>
<text x="23.2" y="676.46" font-size="8.8" fill="#222" text-anchor="end" textLength="9.8" lengthAdjust="spacingAndGlyphs">12</text>
<rect x="27.5" y="680.12" width="32.50" height="9.28" fill="#e3db33"/><rect x="60" y="680.12" width="33.00" height="9.28" fill="#2e4aa8"/>
<text x="23.2" y="685.5250000000001" font-size="8.8" fill="#222" text-anchor="end" textLength="4.9" lengthAdjust="spacingAndGlyphs">8</text>
<rect x="27.5" y="689.25" width="32.50" height="9.28" fill="#e3db33"/><rect x="60" y="689.25" width="33.00" height="9.28" fill="#000000"/>
<text x="23.2" y="694.59" font-size="8.8" fill="#222" text-anchor="end" textLength="9.8" lengthAdjust="spacingAndGlyphs">18</text>
<rect x="27.5" y="698.38" width="32.50" height="9.28" fill="#d4cc45"/><rect x="60" y="698.38" width="33.00" height="9.28" fill="#e3db33"/>
<text x="23.2" y="703.6550000000001" font-size="8.8" fill="#222" text-anchor="end" textLength="4.9" lengthAdjust="spacingAndGlyphs">5</text>
<rect x="27.5" y="707.50" width="32.50" height="9.28" fill="#ada86f"/><rect x="60" y="707.50" width="33.00" height="9.28" fill="#f7ec1e"/>
<text x="23.2" y="712.72" font-size="8.8" fill="#222" text-anchor="end" textLength="4.9" lengthAdjust="spacingAndGlyphs">2</text>
<rect x="27.5" y="716.62" width="32.50" height="9.28" fill="#656ab3"/><rect x="60" y="716.62" width="33.00" height="9.28" fill="#000000"/>
<text x="23.2" y="721.7850000000001" font-size="8.8" fill="#222" text-anchor="end" textLength="9.8" lengthAdjust="spacingAndGlyphs">15</text>
<rect x="27.5" y="725.75" width="32.50" height="9.28" fill="#5f66b2"/><rect x="60" y="725.75" width="33.00" height="9.28" fill="#0c0c21"/>
<text x="23.2" y="730.85" font-size="8.8" fill="#222" text-anchor="end" textLength="9.8" lengthAdjust="spacingAndGlyphs">13</text>
<rect x="27.5" y="734.88" width="32.50" height="9.28" fill="#4052ab"/><rect x="60" y="734.88" width="33.00" height="9.28" fill="#000000"/>
<text x="23.2" y="739.9150000000001" font-size="8.8" fill="#222" text-anchor="end" textLength="9.8" lengthAdjust="spacingAndGlyphs">20</text>
<rect x="27.5" y="744.00" width="32.50" height="9.28" fill="#2e4aa8"/><rect x="60" y="744.00" width="33.00" height="9.28" fill="#1a1d54"/>
<text x="23.2" y="748.98" font-size="8.8" fill="#222" text-anchor="end" textLength="9.8" lengthAdjust="spacingAndGlyphs">11</text>
<rect x="27.5" y="753.12" width="32.50" height="9.28" fill="#2e4aa8"/><rect x="60" y="753.12" width="33.00" height="9.28" fill="#000000"/>
<text x="23.2" y="758.0450000000001" font-size="8.8" fill="#222" text-anchor="end" textLength="9.8" lengthAdjust="spacingAndGlyphs">17</text>
<rect x="27.5" y="762.25" width="32.50" height="9.28" fill="#2a44a4"/><rect x="60" y="762.25" width="33.00" height="9.28" fill="#4b58ad"/>
<text x="23.2" y="767.11" font-size="8.8" fill="#222" text-anchor="end" textLength="4.9" lengthAdjust="spacingAndGlyphs">7</text>
<rect x="27.5" y="771.38" width="32.50" height="9.28" fill="#23389d"/><rect x="60" y="771.38" width="33.00" height="9.28" fill="#2e4aa8"/>
<text x="23.2" y="776.1750000000001" font-size="8.8" fill="#222" text-anchor="end" textLength="9.8" lengthAdjust="spacingAndGlyphs">10</text>
<rect x="27.5" y="780.50" width="32.50" height="9.28" fill="#1f2772"/><rect x="60" y="780.50" width="33.00" height="9.28" fill="#1f2772"/>
<text x="23.2" y="785.24" font-size="8.8" fill="#222" text-anchor="end" textLength="9.8" lengthAdjust="spacingAndGlyphs">19</text>
<rect x="27.5" y="789.62" width="32.50" height="9.28" fill="#1d2161"/><rect x="60" y="789.62" width="33.00" height="9.28" fill="#23389d"/>
<text x="23.2" y="794.3050000000001" font-size="8.8" fill="#222" text-anchor="end" textLength="4.9" lengthAdjust="spacingAndGlyphs">9</text>
<rect x="95" y="634.5" width="6.3" height="164.25" fill="url(#cb)" stroke="#666" stroke-width="0.4"/>
<text x="104.4" y="635.75" font-size="9.5" fill="#333">300</text>
<text x="104.4" y="690.45" font-size="9.5" fill="#333">200</text>
<text x="104.4" y="745.45" font-size="9.5" fill="#333">100</text>
<text x="104.4" y="798.95" font-size="9.5" fill="#333">0</text>
<text x="6.25" y="811.6" font-size="8.4" fill="#222" textLength="55" lengthAdjust="spacingAndGlyphs">Pretreatment</text>
<text x="70.75" y="811.6" font-size="8.4" fill="#222" textLength="41.7" lengthAdjust="spacingAndGlyphs">At relapse</text>
<path d="M187.6,629.6 V711.1 H241.6 M202.9,711.1 V714.6 M226.4,711.1 V714.6" fill="none" stroke="#000" stroke-width="1.5"/>
<line x1="184.2" y1="711.1" x2="187.6" y2="711.1" stroke="#111" stroke-width="0.9"/>
<text x="180.6" y="714.5" font-size="9.5" fill="#333" text-anchor="end">0</text>
<line x1="184.2" y1="687.8" x2="187.6" y2="687.8" stroke="#111" stroke-width="0.9"/>
<text x="180.6" y="691.1999999999999" font-size="9.5" fill="#333" text-anchor="end">100</text>
<line x1="184.2" y1="664.5" x2="187.6" y2="664.5" stroke="#111" stroke-width="0.9"/>
<text x="180.6" y="667.9" font-size="9.5" fill="#333" text-anchor="end">200</text>
<line x1="184.2" y1="641.2" x2="187.6" y2="641.2" stroke="#111" stroke-width="0.9"/>
<text x="180.6" y="644.6" font-size="9.5" fill="#333" text-anchor="end">300</text>
<line x1="202.9" y1="644.2" x2="226.4" y2="648.2" stroke="#111" stroke-width="1.25"/>
<circle cx="202.9" cy="644.2" r="1.4" fill="#111"/><circle cx="226.4" cy="648.2" r="1.4" fill="#111"/>
<line x1="202.9" y1="645.6" x2="226.4" y2="648.7" stroke="#111" stroke-width="1.25"/>
<circle cx="202.9" cy="645.6" r="1.4" fill="#111"/><circle cx="226.4" cy="648.7" r="1.4" fill="#111"/>
<line x1="202.9" y1="650.5" x2="226.4" y2="641.7" stroke="#111" stroke-width="1.25"/>
<circle cx="202.9" cy="650.5" r="1.4" fill="#111"/><circle cx="226.4" cy="641.7" r="1.4" fill="#111"/>
<line x1="202.9" y1="650.1" x2="226.4" y2="675.9" stroke="#111" stroke-width="1.25"/>
<circle cx="202.9" cy="650.1" r="1.4" fill="#111"/><circle cx="226.4" cy="675.9" r="1.4" fill="#111"/>
<line x1="202.9" y1="644.2" x2="226.4" y2="701.5" stroke="#111" stroke-width="1.25"/>
<circle cx="202.9" cy="644.2" r="1.4" fill="#111"/><circle cx="226.4" cy="701.5" r="1.4" fill="#111"/>
<line x1="202.9" y1="664.7" x2="226.4" y2="697.6" stroke="#111" stroke-width="1.25"/>
<circle cx="202.9" cy="664.7" r="1.4" fill="#111"/><circle cx="226.4" cy="697.6" r="1.4" fill="#111"/>
<line x1="202.9" y1="678.9" x2="226.4" y2="669.6" stroke="#111" stroke-width="1.25"/>
<circle cx="202.9" cy="678.9" r="1.4" fill="#111"/><circle cx="226.4" cy="669.6" r="1.4" fill="#111"/>
<line x1="202.9" y1="680.8" x2="226.4" y2="690.6" stroke="#111" stroke-width="1.25"/>
<circle cx="202.9" cy="680.8" r="1.4" fill="#111"/><circle cx="226.4" cy="690.6" r="1.4" fill="#111"/>
<line x1="202.9" y1="690.6" x2="226.4" y2="678.5" stroke="#111" stroke-width="1.25"/>
<circle cx="202.9" cy="690.6" r="1.4" fill="#111"/><circle cx="226.4" cy="678.5" r="1.4" fill="#111"/>
<line x1="202.9" y1="695.0" x2="226.4" y2="690.6" stroke="#111" stroke-width="1.25"/>
<circle cx="202.9" cy="695.0" r="1.4" fill="#111"/><circle cx="226.4" cy="690.6" r="1.4" fill="#111"/>
<line x1="202.9" y1="695.0" x2="226.4" y2="695.0" stroke="#111" stroke-width="1.25"/>
<circle cx="202.9" cy="695.0" r="1.4" fill="#111"/><circle cx="226.4" cy="695.0" r="1.4" fill="#111"/>
<line x1="202.9" y1="698.1" x2="226.4" y2="695.0" stroke="#111" stroke-width="1.25"/>
<circle cx="202.9" cy="698.1" r="1.4" fill="#111"/><circle cx="226.4" cy="695.0" r="1.4" fill="#111"/>
<line x1="202.9" y1="655.6" x2="226.4" y2="695.0" stroke="#111" stroke-width="1.25"/>
<circle cx="202.9" cy="655.6" r="1.4" fill="#111"/><circle cx="226.4" cy="695.0" r="1.4" fill="#111"/>
<line x1="202.9" y1="641.7" x2="226.4" y2="711.1" stroke="#c8102e" stroke-width="1.25"/>
<circle cx="202.9" cy="641.7" r="1.4" fill="#c8102e"/><circle cx="226.4" cy="711.1" r="1.4" fill="#c8102e"/>
<line x1="202.9" y1="648.2" x2="226.4" y2="711.1" stroke="#c8102e" stroke-width="1.25"/>
<circle cx="202.9" cy="648.2" r="1.4" fill="#c8102e"/><circle cx="226.4" cy="711.1" r="1.4" fill="#c8102e"/>
<line x1="202.9" y1="669.4" x2="226.4" y2="711.1" stroke="#c8102e" stroke-width="1.25"/>
<circle cx="202.9" cy="669.4" r="1.4" fill="#c8102e"/><circle cx="226.4" cy="711.1" r="1.4" fill="#c8102e"/>
<line x1="202.9" y1="671.0" x2="226.4" y2="711.1" stroke="#c8102e" stroke-width="1.25"/>
<circle cx="202.9" cy="671.0" r="1.4" fill="#c8102e"/><circle cx="226.4" cy="711.1" r="1.4" fill="#c8102e"/>
<line x1="202.9" y1="680.6" x2="226.4" y2="711.1" stroke="#c8102e" stroke-width="1.25"/>
<circle cx="202.9" cy="680.6" r="1.4" fill="#c8102e"/><circle cx="226.4" cy="711.1" r="1.4" fill="#c8102e"/>
<text x="151.8" y="695.8" font-size="10.9" fill="#111" font-weight="bold" textLength="28.7" lengthAdjust="spacingAndGlyphs" transform="rotate(-90 151.8 695.8)">H score</text>
<text x="205.5" y="719.5" font-size="8.6" fill="#333" text-anchor="end" transform="rotate(-45 205.5 719.5)">Pre-Tx</text>
<text x="228.3" y="718.5" font-size="9" fill="#333" text-anchor="end" transform="rotate(-45 228.3 718.5)">Relapsed</text>
<text x="142.5" y="760.4" font-size="9.4" fill="#222" textLength="91.7" lengthAdjust="spacingAndGlyphs">CD19 H-score (N=18)</text>
<line x1="142.5" y1="761.6" x2="234.2" y2="761.6" stroke="#222" stroke-width="0.8"/>
<text x="142.5" y="775.3" font-size="9.4" fill="#222" textLength="46.5" lengthAdjust="spacingAndGlyphs">No change</text>
<text x="142.5" y="786.3" font-size="9.4" fill="#222" textLength="31" lengthAdjust="spacingAndGlyphs">(6-300)</text>
<text x="218.8" y="786.3" font-size="9.4" fill="#222" textLength="23.5" lengthAdjust="spacingAndGlyphs">N=13</text>
<text x="142.5" y="797.6" font-size="9.4" fill="#c8283c" textLength="50" lengthAdjust="spacingAndGlyphs">Changed to</text>
<text x="142.5" y="809.1" font-size="9.4" fill="#c8283c" textLength="58.5" lengthAdjust="spacingAndGlyphs">negative (≤ 5)</text>
<text x="218.8" y="809.1" font-size="9.4" fill="#c8283c" textLength="18.5" lengthAdjust="spacingAndGlyphs">N=5</text>
<text x="142.5" y="821" font-size="9.4" fill="#2ea7e0" textLength="50" lengthAdjust="spacingAndGlyphs">Changed to</text>
<text x="142.5" y="832.3" font-size="9.4" fill="#2ea7e0" textLength="55" lengthAdjust="spacingAndGlyphs">positive (&gt; 5)</text>
<text x="218.8" y="832.3" font-size="9.4" fill="#2ea7e0" textLength="18.5" lengthAdjust="spacingAndGlyphs">N=0</text>
<text x="319.1" y="629.8" font-size="8.4" fill="#222" text-anchor="middle" textLength="39.2" lengthAdjust="spacingAndGlyphs">CD20 IHC</text>
<rect x="284.5" y="633.75" width="32.25" height="9.28" fill="#f7ec1e"/><rect x="316.75" y="633.75" width="32.75" height="9.28" fill="#f7ec1e"/>
<text x="280.8" y="640.2" font-size="8.8" fill="#222" text-anchor="end" textLength="4.9" lengthAdjust="spacingAndGlyphs">3</text>
<rect x="284.5" y="642.88" width="32.25" height="9.28" fill="#f7ec1e"/><rect x="316.75" y="642.88" width="32.75" height="9.28" fill="#f7ec1e"/>
<text x="280.8" y="649.2650000000001" font-size="8.8" fill="#222" text-anchor="end" textLength="4.9" lengthAdjust="spacingAndGlyphs">6</text>
<rect x="284.5" y="652.00" width="32.25" height="9.28" fill="#f7ec1e"/><rect x="316.75" y="652.00" width="32.75" height="9.28" fill="#f7ec1e"/>
<text x="280.8" y="658.33" font-size="8.8" fill="#222" text-anchor="end" textLength="4.9" lengthAdjust="spacingAndGlyphs">8</text>
<rect x="284.5" y="661.12" width="32.25" height="9.28" fill="#f7ec1e"/><rect x="316.75" y="661.12" width="32.75" height="9.28" fill="#f7ec1e"/>
<text x="280.8" y="667.3950000000001" font-size="8.8" fill="#222" text-anchor="end" textLength="4.9" lengthAdjust="spacingAndGlyphs">5</text>
<rect x="284.5" y="670.25" width="32.25" height="9.28" fill="#f7ec1e"/><rect x="316.75" y="670.25" width="32.75" height="9.28" fill="#f7ec1e"/>
<text x="280.8" y="676.46" font-size="8.8" fill="#222" text-anchor="end" textLength="4.9" lengthAdjust="spacingAndGlyphs">2</text>
<rect x="284.5" y="679.38" width="32.25" height="9.28" fill="#f7ec1e"/><rect x="316.75" y="679.38" width="32.75" height="9.28" fill="#f7ec1e"/>
<text x="280.8" y="685.5250000000001" font-size="8.8" fill="#222" text-anchor="end" textLength="9.8" lengthAdjust="spacingAndGlyphs">15</text>
<rect x="284.5" y="688.50" width="32.25" height="9.28" fill="#f7ec1e"/><rect x="316.75" y="688.50" width="32.75" height="9.28" fill="#f7ec1e"/>
<text x="280.8" y="694.59" font-size="8.8" fill="#222" text-anchor="end" textLength="9.8" lengthAdjust="spacingAndGlyphs">13</text>
<rect x="284.5" y="697.62" width="32.25" height="9.28" fill="#f7ec1e"/><rect x="316.75" y="697.62" width="32.75" height="9.28" fill="#e3db33"/>
<text x="280.8" y="703.6550000000001" font-size="8.8" fill="#222" text-anchor="end" textLength="9.8" lengthAdjust="spacingAndGlyphs">11</text>
<rect x="284.5" y="706.75" width="32.25" height="9.28" fill="#f7ec1e"/><rect x="316.75" y="706.75" width="32.75" height="9.28" fill="#d9d13f"/>
<text x="280.8" y="712.72" font-size="8.8" fill="#222" text-anchor="end" textLength="9.8" lengthAdjust="spacingAndGlyphs">16</text>
<rect x="284.5" y="715.88" width="32.25" height="9.28" fill="#f7ec1e"/><rect x="316.75" y="715.88" width="32.75" height="9.28" fill="#c8c054"/>
<text x="280.8" y="721.7850000000001" font-size="8.8" fill="#222" text-anchor="end" textLength="9.8" lengthAdjust="spacingAndGlyphs">17</text>
<rect x="284.5" y="725.00" width="32.25" height="9.28" fill="#f7ec1e"/><rect x="316.75" y="725.00" width="32.75" height="9.28" fill="#656ab3"/>
<text x="280.8" y="730.85" font-size="8.8" fill="#222" text-anchor="end" textLength="4.9" lengthAdjust="spacingAndGlyphs">9</text>
<rect x="284.5" y="734.12" width="32.25" height="9.28" fill="#f7ec1e"/><rect x="316.75" y="734.12" width="32.75" height="9.28" fill="#2e4aa8"/>
<text x="280.8" y="739.9150000000001" font-size="8.8" fill="#222" text-anchor="end" textLength="9.8" lengthAdjust="spacingAndGlyphs">10</text>
<rect x="284.5" y="743.25" width="32.25" height="9.28" fill="#f7ec1e"/><rect x="316.75" y="743.25" width="32.75" height="9.28" fill="#0c0c21"/>
<text x="280.8" y="748.98" font-size="8.8" fill="#222" text-anchor="end" textLength="9.8" lengthAdjust="spacingAndGlyphs">18</text>
<rect x="284.5" y="752.38" width="32.25" height="9.28" fill="#f7ec1e"/><rect x="316.75" y="752.38" width="32.75" height="9.28" fill="#000000"/>
<text x="280.8" y="758.0450000000001" font-size="8.8" fill="#222" text-anchor="end" textLength="9.8" lengthAdjust="spacingAndGlyphs">20</text>
<rect x="284.5" y="761.50" width="32.25" height="9.28" fill="#ebe22b"/><rect x="316.75" y="761.50" width="32.75" height="9.28" fill="#f7ec1e"/>
<text x="280.8" y="767.11" font-size="8.8" fill="#222" text-anchor="end" textLength="4.9" lengthAdjust="spacingAndGlyphs">4</text>
<rect x="284.5" y="770.62" width="32.25" height="9.28" fill="#d2ca48"/><rect x="316.75" y="770.62" width="32.75" height="9.28" fill="#f7ec1e"/>
<text x="280.8" y="776.1750000000001" font-size="8.8" fill="#222" text-anchor="end" textLength="4.9" lengthAdjust="spacingAndGlyphs">7</text>
<rect x="284.5" y="779.75" width="32.25" height="9.28" fill="#c8c054"/><rect x="316.75" y="779.75" width="32.75" height="9.28" fill="#e3db33"/>
<text x="280.8" y="785.24" font-size="8.8" fill="#222" text-anchor="end" textLength="9.8" lengthAdjust="spacingAndGlyphs">19</text>
<rect x="284.5" y="788.88" width="32.25" height="9.28" fill="#000000"/><rect x="316.75" y="788.88" width="32.75" height="9.28" fill="#04040b"/>
<text x="280.8" y="794.3050000000001" font-size="8.8" fill="#222" text-anchor="end" textLength="9.8" lengthAdjust="spacingAndGlyphs">12</text>
<rect x="351.3" y="633.75" width="6.2" height="164.25" fill="url(#cb)" stroke="#666" stroke-width="0.4"/>
<text x="360.4" y="635.45" font-size="9.5" fill="#333">300</text>
<text x="360.4" y="690.2" font-size="9.5" fill="#333">200</text>
<text x="360.4" y="744.7" font-size="9.5" fill="#333">100</text>
<text x="360.4" y="798.95" font-size="9.5" fill="#333">0</text>
<text x="261.25" y="811.6" font-size="8.4" fill="#222" textLength="58.75" lengthAdjust="spacingAndGlyphs">Pre-treatment</text>
<text x="328.75" y="811.6" font-size="8.4" fill="#222" textLength="41.7" lengthAdjust="spacingAndGlyphs">At relapse</text>
<path d="M441.75,632.5 V710 H493 M456.1,710 V713.5 M478.5,710 V713.5" fill="none" stroke="#000" stroke-width="1.5"/>
<line x1="438.3" y1="710.0" x2="441.75" y2="710.0" stroke="#111" stroke-width="0.9"/>
<text x="435.2" y="713.4" font-size="9.5" fill="#333" text-anchor="end">0</text>
<line x1="438.3" y1="687.8" x2="441.75" y2="687.8" stroke="#111" stroke-width="0.9"/>
<text x="435.2" y="691.1999999999999" font-size="9.5" fill="#333" text-anchor="end">100</text>
<line x1="438.3" y1="665.5" x2="441.75" y2="665.5" stroke="#111" stroke-width="0.9"/>
<text x="435.2" y="668.9" font-size="9.5" fill="#333" text-anchor="end">200</text>
<line x1="438.3" y1="643.2" x2="441.75" y2="643.2" stroke="#111" stroke-width="0.9"/>
<text x="435.2" y="646.6" font-size="9.5" fill="#333" text-anchor="end">300</text>
<line x1="456.1" y1="643.2" x2="478.5" y2="643.7" stroke="#111" stroke-width="1.25"/>
<circle cx="456.1" cy="643.2" r="1.4" fill="#111"/><circle cx="478.5" cy="643.7" r="1.4" fill="#111"/>
<line x1="456.1" y1="643.2" x2="478.5" y2="647.9" stroke="#111" stroke-width="1.25"/>
<circle cx="456.1" cy="643.2" r="1.4" fill="#111"/><circle cx="478.5" cy="647.9" r="1.4" fill="#111"/>
<line x1="456.1" y1="647.9" x2="478.5" y2="643.7" stroke="#111" stroke-width="1.25"/>
<circle cx="456.1" cy="647.9" r="1.4" fill="#111"/><circle cx="478.5" cy="643.7" r="1.4" fill="#111"/>
<line x1="456.1" y1="647.9" x2="478.5" y2="647.9" stroke="#111" stroke-width="1.25"/>
<circle cx="456.1" cy="647.9" r="1.4" fill="#111"/><circle cx="478.5" cy="647.9" r="1.4" fill="#111"/>
<line x1="456.1" y1="652.6" x2="478.5" y2="647.9" stroke="#111" stroke-width="1.25"/>
<circle cx="456.1" cy="652.6" r="1.4" fill="#111"/><circle cx="478.5" cy="647.9" r="1.4" fill="#111"/>
<line x1="456.1" y1="643.2" x2="478.5" y2="650.6" stroke="#111" stroke-width="1.25"/>
<circle cx="456.1" cy="643.2" r="1.4" fill="#111"/><circle cx="478.5" cy="650.6" r="1.4" fill="#111"/>
<line x1="456.1" y1="647.9" x2="478.5" y2="652.6" stroke="#111" stroke-width="1.25"/>
<circle cx="456.1" cy="647.9" r="1.4" fill="#111"/><circle cx="478.5" cy="652.6" r="1.4" fill="#111"/>
<line x1="456.1" y1="652.6" x2="478.5" y2="650.6" stroke="#111" stroke-width="1.25"/>
<circle cx="456.1" cy="652.6" r="1.4" fill="#111"/><circle cx="478.5" cy="650.6" r="1.4" fill="#111"/>
<line x1="456.1" y1="645.5" x2="478.5" y2="645.5" stroke="#111" stroke-width="1.25"/>
<circle cx="456.1" cy="645.5" r="1.4" fill="#111"/><circle cx="478.5" cy="645.5" r="1.4" fill="#111"/>
<line x1="456.1" y1="643.2" x2="478.5" y2="652.6" stroke="#111" stroke-width="1.25"/>
<circle cx="456.1" cy="643.2" r="1.4" fill="#111"/><circle cx="478.5" cy="652.6" r="1.4" fill="#111"/>
<line x1="456.1" y1="643.2" x2="478.5" y2="667.1" stroke="#111" stroke-width="1.25"/>
<circle cx="456.1" cy="643.2" r="1.4" fill="#111"/><circle cx="478.5" cy="667.1" r="1.4" fill="#111"/>
<line x1="456.1" y1="643.2" x2="478.5" y2="675.1" stroke="#111" stroke-width="1.25"/>
<circle cx="456.1" cy="643.2" r="1.4" fill="#111"/><circle cx="478.5" cy="675.1" r="1.4" fill="#111"/>
<line x1="456.1" y1="643.2" x2="478.5" y2="703.8" stroke="#111" stroke-width="1.25"/>
<circle cx="456.1" cy="643.2" r="1.4" fill="#111"/><circle cx="478.5" cy="703.8" r="1.4" fill="#111"/>
<line x1="456.1" y1="710.0" x2="478.5" y2="707.6" stroke="#2ea7e0" stroke-width="1.25"/>
<circle cx="456.1" cy="710.0" r="1.4" fill="#2ea7e0"/><circle cx="478.5" cy="707.6" r="1.4" fill="#2ea7e0"/>
<line x1="456.1" y1="643.2" x2="478.5" y2="710.0" stroke="#c8102e" stroke-width="1.25"/>
<circle cx="456.1" cy="643.2" r="1.4" fill="#c8102e"/><circle cx="478.5" cy="710.0" r="1.4" fill="#c8102e"/>
<text x="410.9" y="697.5" font-size="10.9" fill="#111" font-weight="bold" textLength="30" lengthAdjust="spacingAndGlyphs" transform="rotate(-90 410.9 697.5)">H Score</text>
<text x="457.7" y="718.3" font-size="9" fill="#333" text-anchor="end" transform="rotate(-45 457.7 718.3)">Pre-Tx</text>
<text x="479.5" y="717.5" font-size="9" fill="#333" text-anchor="end" transform="rotate(-45 479.5 717.5)">Relapsed</text>
<text x="411.25" y="758.4" font-size="9.4" fill="#222" textLength="92.5" lengthAdjust="spacingAndGlyphs">CD20 H-score (N=18)</text>
<line x1="411.25" y1="759.6" x2="503.75" y2="759.6" stroke="#222" stroke-width="0.8"/>
<text x="411.25" y="773.3" font-size="9.4" fill="#222" textLength="46.5" lengthAdjust="spacingAndGlyphs">No change</text>
<text x="411.25" y="784.3" font-size="9.4" fill="#222" textLength="31" lengthAdjust="spacingAndGlyphs">(6-300)</text>
<text x="488.3" y="784.3" font-size="9.4" fill="#222" textLength="23.5" lengthAdjust="spacingAndGlyphs">N=16</text>
<text x="411.25" y="795.6" font-size="9.4" fill="#c8283c" textLength="50" lengthAdjust="spacingAndGlyphs">Changed to</text>
<text x="411.25" y="807.1" font-size="9.4" fill="#c8283c" textLength="58.5" lengthAdjust="spacingAndGlyphs">negative (≤ 5)</text>
<text x="488.3" y="807.1" font-size="9.4" fill="#c8283c" textLength="18.5" lengthAdjust="spacingAndGlyphs">N=1</text>
<text x="411.25" y="819" font-size="9.4" fill="#2ea7e0" textLength="50" lengthAdjust="spacingAndGlyphs">Changed to</text>
<text x="411.25" y="830.3" font-size="9.4" fill="#2ea7e0" textLength="55" lengthAdjust="spacingAndGlyphs">positive (&gt; 5)</text>
<text x="488.3" y="830.3" font-size="9.4" fill="#2ea7e0" textLength="18.5" lengthAdjust="spacingAndGlyphs">N=1</text>
<path d="M0.5,0 V843 M0,0.5 H520 M519.2,0 V843 M0,842 H520" stroke="#000" stroke-width="1" fill="none"/>
<rect x="518.4" y="0" width="1.6" height="843" fill="#000"/><rect x="0" y="841.2" width="520" height="1.8" fill="#000"/>
</svg></body></html>
